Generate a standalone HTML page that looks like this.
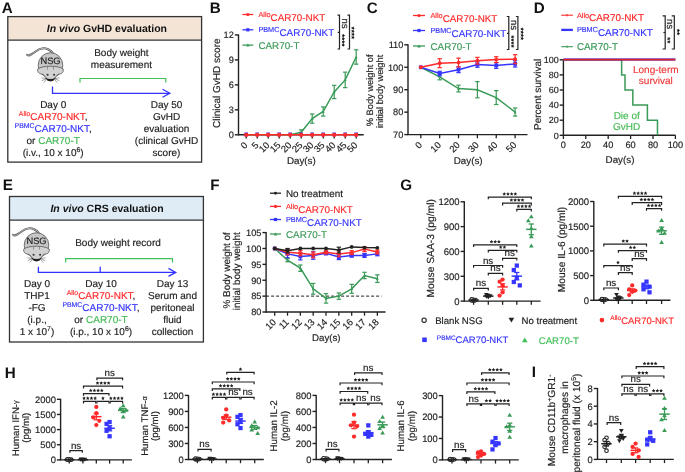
<!DOCTYPE html>
<html><head><meta charset="utf-8"><style>
html,body{margin:0;padding:0;background:#fff;}
svg{display:block;font-family:"Liberation Sans", sans-serif;text-rendering:geometricPrecision;will-change:transform;}
</style></head><body>
<svg width="685" height="472" viewBox="0 0 685 472">
<rect width="685" height="472" fill="#fff"/>
<text x="1.80" y="13.10" font-size="15.2" fill="#111" font-weight="bold">A</text>
<rect x="7.8" y="16.6" width="193.79999999999998" height="23.5" fill="#f3e4d6"/>
<rect x="7.8" y="16.6" width="193.79999999999998" height="145.5" fill="none" stroke="#333" stroke-width="1.3"/>
<line x1="7.80" y1="40.10" x2="201.60" y2="40.10" stroke="#333" stroke-width="1.3"/>
<text x="106.9" y="32.2" font-size="10.5" font-weight="bold" fill="#111" text-anchor="middle"><tspan font-style="italic">In vivo</tspan> GvHD evaluation</text>
<g transform="translate(50.5,61) scale(1.0)"><path d="M-23.4,-6.3 C-21,-4.5 -19,-6.5 -15,-9.5 C-11,-12.8 -6,-13.5 -2,-11.5 C0,-10.5 1.5,-9.5 2.6,-7.6" fill="none" stroke="#555" stroke-width="2.0" stroke-linecap="round"/><path d="M-23.4,-6.3 C-21,-4.5 -19,-6.5 -15,-9.5 C-11,-12.8 -6,-13.5 -2,-11.5 C0,-10.5 1.5,-9.5 2.6,-7.6" fill="none" stroke="#c4c4c4" stroke-width="0.9" stroke-linecap="round"/><ellipse cx="0" cy="4.3" rx="12.3" ry="12.6" fill="#c6c6c6" stroke="#555" stroke-width="0.8"/><path d="M-12.7,8 C-13.6,11.5 -10.5,13.4 -7.5,13.2 L-2,19.4 Q0,20.6 2,19.4 L7.5,13.2 C10.5,13.4 13.6,11.5 12.7,8 C8,4.3 -8,4.3 -12.7,8 Z" fill="#d2d2d2" stroke="#555" stroke-width="0.8"/><path d="M-3,5.6 L-3,8.6 M3,5.6 L3,8.6" stroke="#777" stroke-width="0.7"/><circle cx="-2.9" cy="13.7" r="1.05" fill="#333"/><circle cx="3.6" cy="13.7" r="1.05" fill="#333"/><path d="M-5.6,16.6 Q0,19.6 5.6,16.6 L3.2,19.6 Q0,20.8 -3.2,19.6 Z" fill="#222"/><path d="M-4.5,17.5 L-9,16.8 M-4.5,18 L-8.8,19.6 M-4,18.6 L-6.8,21.6 M4.5,17.5 L9,16.8 M4.5,18 L8.8,19.6 M4,18.6 L6.8,21.6" stroke="#555" stroke-width="0.55"/><text x="0" y="2.9" font-size="9.3" fill="#222" text-anchor="middle" stroke="#222" stroke-width="0.16">NSG</text></g>
<text x="121.40" y="56.00" font-size="10.0" fill="#222" text-anchor="middle" stroke="#222" stroke-width="0.16">Body weight</text>
<text x="121.40" y="68.00" font-size="10.0" fill="#222" text-anchor="middle" stroke="#222" stroke-width="0.16">measurement</text>
<polyline fill="none" stroke="#3fbf55" stroke-width="1.2" points="80.00,82.50 80.00,78.50 165.80,78.50 165.80,82.50"/>
<polyline fill="none" stroke="#3333ff" stroke-width="1.3" points="52.50,86.50 52.50,93.30 169.50,93.30"/>
<polyline fill="none" stroke="#3333ff" stroke-width="1.3" points="162.50,89.30 169.80,93.30 162.50,97.30"/>
<text x="53.20" y="108.10" font-size="10.0" fill="#222" text-anchor="middle" stroke="#222" stroke-width="0.16">Day 0</text>
<text x="53.2" y="120.0" font-size="10.0" text-anchor="middle" fill="#222" stroke="#222" stroke-width="0.16"><tspan fill="#ff2a2a" font-size="6.9" dy="-3.7" stroke="#ff2a2a" stroke-width="0.16">Allo</tspan><tspan fill="#ff2a2a" dy="3.7" stroke="#ff2a2a" stroke-width="0.16">CAR70-NKT</tspan>,</text>
<text x="53.2" y="131.9" font-size="10.0" text-anchor="middle" fill="#222" stroke="#222" stroke-width="0.16"><tspan fill="#3535ff" font-size="6.9" dy="-3.7" stroke="#3535ff" stroke-width="0.16">PBMC</tspan><tspan fill="#3535ff" dy="3.7" stroke="#3535ff" stroke-width="0.16">CAR70-NKT</tspan>,</text>
<text x="53.2" y="143.8" font-size="10.0" text-anchor="middle" fill="#222" stroke="#222" stroke-width="0.16">or <tspan fill="#44bb55" stroke="#44bb55" stroke-width="0.16">CAR70-T</tspan></text>
<text x="53.2" y="155.7" font-size="10.0" text-anchor="middle" fill="#222" stroke="#222" stroke-width="0.16">(i.v., 10 x 10<tspan font-size="6.9" dy="-3.7">6</tspan><tspan dy="3.7">)</tspan></text>
<text x="166.50" y="108.10" font-size="10.0" fill="#222" text-anchor="middle" stroke="#222" stroke-width="0.16">Day 50</text>
<text x="166.50" y="120.00" font-size="10.0" fill="#222" text-anchor="middle" stroke="#222" stroke-width="0.16">GvHD</text>
<text x="166.50" y="131.90" font-size="10.0" fill="#222" text-anchor="middle" stroke="#222" stroke-width="0.16">evaluation</text>
<text x="166.50" y="143.80" font-size="10.0" fill="#222" text-anchor="middle" stroke="#222" stroke-width="0.16">(clinical GvHD</text>
<text x="166.50" y="155.70" font-size="10.0" fill="#222" text-anchor="middle" stroke="#222" stroke-width="0.16">score)</text>
<text x="209.80" y="13.10" font-size="15.2" fill="#111" font-weight="bold">B</text>
<line x1="238.50" y1="34.46" x2="238.50" y2="135.30" stroke="#222" stroke-width="1.4"/>
<line x1="234.80" y1="134.80" x2="238.50" y2="134.80" stroke="#222" stroke-width="1.4"/>
<text x="233.80" y="138.11" font-size="9.2" fill="#222" text-anchor="end" stroke="#222" stroke-width="0.16">0</text>
<line x1="234.80" y1="109.84" x2="238.50" y2="109.84" stroke="#222" stroke-width="1.4"/>
<text x="233.80" y="113.15" font-size="9.2" fill="#222" text-anchor="end" stroke="#222" stroke-width="0.16">3</text>
<line x1="234.80" y1="84.88" x2="238.50" y2="84.88" stroke="#222" stroke-width="1.4"/>
<text x="233.80" y="88.19" font-size="9.2" fill="#222" text-anchor="end" stroke="#222" stroke-width="0.16">6</text>
<line x1="234.80" y1="59.92" x2="238.50" y2="59.92" stroke="#222" stroke-width="1.4"/>
<text x="233.80" y="63.23" font-size="9.2" fill="#222" text-anchor="end" stroke="#222" stroke-width="0.16">9</text>
<line x1="234.80" y1="34.96" x2="238.50" y2="34.96" stroke="#222" stroke-width="1.4"/>
<text x="233.80" y="38.27" font-size="9.2" fill="#222" text-anchor="end" stroke="#222" stroke-width="0.16">12</text>
<line x1="238.00" y1="134.80" x2="363.70" y2="134.80" stroke="#222" stroke-width="1.4"/>
<line x1="246.20" y1="134.80" x2="246.20" y2="138.50" stroke="#222" stroke-width="1.3"/>
<text x="248.20" y="145.70" font-size="9.4" fill="#222" text-anchor="end" transform="rotate(-45 248.20 145.70)" stroke="#222" stroke-width="0.16">0</text>
<line x1="257.20" y1="134.80" x2="257.20" y2="138.50" stroke="#222" stroke-width="1.3"/>
<text x="259.20" y="145.70" font-size="9.4" fill="#222" text-anchor="end" transform="rotate(-45 259.20 145.70)" stroke="#222" stroke-width="0.16">5</text>
<line x1="268.20" y1="134.80" x2="268.20" y2="138.50" stroke="#222" stroke-width="1.3"/>
<text x="270.20" y="145.70" font-size="9.4" fill="#222" text-anchor="end" transform="rotate(-45 270.20 145.70)" stroke="#222" stroke-width="0.16">10</text>
<line x1="279.20" y1="134.80" x2="279.20" y2="138.50" stroke="#222" stroke-width="1.3"/>
<text x="281.20" y="145.70" font-size="9.4" fill="#222" text-anchor="end" transform="rotate(-45 281.20 145.70)" stroke="#222" stroke-width="0.16">15</text>
<line x1="290.20" y1="134.80" x2="290.20" y2="138.50" stroke="#222" stroke-width="1.3"/>
<text x="292.20" y="145.70" font-size="9.4" fill="#222" text-anchor="end" transform="rotate(-45 292.20 145.70)" stroke="#222" stroke-width="0.16">20</text>
<line x1="301.20" y1="134.80" x2="301.20" y2="138.50" stroke="#222" stroke-width="1.3"/>
<text x="303.20" y="145.70" font-size="9.4" fill="#222" text-anchor="end" transform="rotate(-45 303.20 145.70)" stroke="#222" stroke-width="0.16">25</text>
<line x1="312.20" y1="134.80" x2="312.20" y2="138.50" stroke="#222" stroke-width="1.3"/>
<text x="314.20" y="145.70" font-size="9.4" fill="#222" text-anchor="end" transform="rotate(-45 314.20 145.70)" stroke="#222" stroke-width="0.16">30</text>
<line x1="323.20" y1="134.80" x2="323.20" y2="138.50" stroke="#222" stroke-width="1.3"/>
<text x="325.20" y="145.70" font-size="9.4" fill="#222" text-anchor="end" transform="rotate(-45 325.20 145.70)" stroke="#222" stroke-width="0.16">35</text>
<line x1="334.20" y1="134.80" x2="334.20" y2="138.50" stroke="#222" stroke-width="1.3"/>
<text x="336.20" y="145.70" font-size="9.4" fill="#222" text-anchor="end" transform="rotate(-45 336.20 145.70)" stroke="#222" stroke-width="0.16">40</text>
<line x1="345.20" y1="134.80" x2="345.20" y2="138.50" stroke="#222" stroke-width="1.3"/>
<text x="347.20" y="145.70" font-size="9.4" fill="#222" text-anchor="end" transform="rotate(-45 347.20 145.70)" stroke="#222" stroke-width="0.16">45</text>
<line x1="356.20" y1="134.80" x2="356.20" y2="138.50" stroke="#222" stroke-width="1.3"/>
<text x="358.20" y="145.70" font-size="9.4" fill="#222" text-anchor="end" transform="rotate(-45 358.20 145.70)" stroke="#222" stroke-width="0.16">50</text>
<text x="301.35" y="163.90" font-size="9.8" fill="#222" text-anchor="middle" stroke="#222" stroke-width="0.16">Day(s)</text>
<text x="220.30" y="83.20" font-size="10" fill="#222" text-anchor="middle" transform="rotate(-90 220.30 83.20)" stroke="#222" stroke-width="0.16">Clinical GvHD score</text>
<line x1="301.20" y1="134.80" x2="301.20" y2="129.81" stroke="#3a9a58" stroke-width="1.2"/>
<line x1="299.00" y1="134.80" x2="303.40" y2="134.80" stroke="#3a9a58" stroke-width="1.2"/>
<line x1="299.00" y1="129.81" x2="303.40" y2="129.81" stroke="#3a9a58" stroke-width="1.2"/>
<line x1="312.20" y1="123.15" x2="312.20" y2="114.00" stroke="#3a9a58" stroke-width="1.2"/>
<line x1="310.00" y1="123.15" x2="314.40" y2="123.15" stroke="#3a9a58" stroke-width="1.2"/>
<line x1="310.00" y1="114.00" x2="314.40" y2="114.00" stroke="#3a9a58" stroke-width="1.2"/>
<line x1="323.20" y1="116.08" x2="323.20" y2="106.93" stroke="#3a9a58" stroke-width="1.2"/>
<line x1="321.00" y1="116.08" x2="325.40" y2="116.08" stroke="#3a9a58" stroke-width="1.2"/>
<line x1="321.00" y1="106.93" x2="325.40" y2="106.93" stroke="#3a9a58" stroke-width="1.2"/>
<line x1="334.20" y1="98.61" x2="334.20" y2="85.30" stroke="#3a9a58" stroke-width="1.2"/>
<line x1="332.00" y1="98.61" x2="336.40" y2="98.61" stroke="#3a9a58" stroke-width="1.2"/>
<line x1="332.00" y1="85.30" x2="336.40" y2="85.30" stroke="#3a9a58" stroke-width="1.2"/>
<line x1="345.20" y1="87.63" x2="345.20" y2="72.15" stroke="#3a9a58" stroke-width="1.2"/>
<line x1="343.00" y1="87.63" x2="347.40" y2="87.63" stroke="#3a9a58" stroke-width="1.2"/>
<line x1="343.00" y1="72.15" x2="347.40" y2="72.15" stroke="#3a9a58" stroke-width="1.2"/>
<line x1="356.20" y1="64.16" x2="356.20" y2="49.85" stroke="#3a9a58" stroke-width="1.2"/>
<line x1="354.00" y1="64.16" x2="358.40" y2="64.16" stroke="#3a9a58" stroke-width="1.2"/>
<line x1="354.00" y1="49.85" x2="358.40" y2="49.85" stroke="#3a9a58" stroke-width="1.2"/>
<polyline fill="none" stroke="#3a9a58" stroke-width="1.5" points="246.20,134.80 257.20,134.80 268.20,134.80 279.20,134.80 290.20,134.80 301.20,132.30 312.20,118.58 323.20,111.50 334.20,91.95 345.20,79.89 356.20,57.01"/>
<polygon fill="#3a9a58" points="244.73,135.98 247.67,135.98 246.20,133.48"/>
<polygon fill="#3a9a58" points="255.73,135.98 258.67,135.98 257.20,133.48"/>
<polygon fill="#3a9a58" points="266.73,135.98 269.67,135.98 268.20,133.48"/>
<polygon fill="#3a9a58" points="277.73,135.98 280.67,135.98 279.20,133.48"/>
<polygon fill="#3a9a58" points="288.73,135.98 291.67,135.98 290.20,133.48"/>
<polygon fill="#3a9a58" points="299.73,133.48 302.67,133.48 301.20,130.98"/>
<polygon fill="#3a9a58" points="310.73,119.75 313.67,119.75 312.20,117.25"/>
<polygon fill="#3a9a58" points="321.73,112.68 324.67,112.68 323.20,110.18"/>
<polygon fill="#3a9a58" points="332.73,93.13 335.67,93.13 334.20,90.63"/>
<polygon fill="#3a9a58" points="343.73,81.06 346.67,81.06 345.20,78.57"/>
<polygon fill="#3a9a58" points="354.73,58.18 357.67,58.18 356.20,55.69"/>
<rect x="244.39" y="132.50" width="3.61" height="3.61" fill="#3535ff"/>
<rect x="255.39" y="132.50" width="3.61" height="3.61" fill="#3535ff"/>
<rect x="266.39" y="132.50" width="3.61" height="3.61" fill="#3535ff"/>
<rect x="277.39" y="132.50" width="3.61" height="3.61" fill="#3535ff"/>
<rect x="288.39" y="132.50" width="3.61" height="3.61" fill="#3535ff"/>
<rect x="299.39" y="132.50" width="3.61" height="3.61" fill="#3535ff"/>
<rect x="310.39" y="132.50" width="3.61" height="3.61" fill="#3535ff"/>
<rect x="321.39" y="132.50" width="3.61" height="3.61" fill="#3535ff"/>
<rect x="332.39" y="132.50" width="3.61" height="3.61" fill="#3535ff"/>
<rect x="343.39" y="132.50" width="3.61" height="3.61" fill="#3535ff"/>
<rect x="354.39" y="132.50" width="3.61" height="3.61" fill="#3535ff"/>
<polyline fill="none" stroke="#ff2a2a" stroke-width="1.6" points="246.20,134.80 356.20,134.80"/>
<circle cx="246.20" cy="134.90" r="2.128" fill="#ff2a2a" stroke="none" stroke-width="0"/>
<circle cx="257.20" cy="134.90" r="2.128" fill="#ff2a2a" stroke="none" stroke-width="0"/>
<circle cx="268.20" cy="134.90" r="2.128" fill="#ff2a2a" stroke="none" stroke-width="0"/>
<circle cx="279.20" cy="134.90" r="2.128" fill="#ff2a2a" stroke="none" stroke-width="0"/>
<circle cx="290.20" cy="134.90" r="2.128" fill="#ff2a2a" stroke="none" stroke-width="0"/>
<circle cx="301.20" cy="134.90" r="2.128" fill="#ff2a2a" stroke="none" stroke-width="0"/>
<circle cx="312.20" cy="134.90" r="2.128" fill="#ff2a2a" stroke="none" stroke-width="0"/>
<circle cx="323.20" cy="134.90" r="2.128" fill="#ff2a2a" stroke="none" stroke-width="0"/>
<circle cx="334.20" cy="134.90" r="2.128" fill="#ff2a2a" stroke="none" stroke-width="0"/>
<circle cx="345.20" cy="134.90" r="2.128" fill="#ff2a2a" stroke="none" stroke-width="0"/>
<circle cx="356.20" cy="134.90" r="2.128" fill="#ff2a2a" stroke="none" stroke-width="0"/>
<line x1="242.40" y1="14.50" x2="253.30" y2="14.50" stroke="#ff2a2a" stroke-width="1.3"/>
<circle cx="247.85" cy="14.50" r="1.615" fill="#ff2a2a" stroke="none" stroke-width="0"/>
<line x1="242.40" y1="29.80" x2="253.30" y2="29.80" stroke="#3535ff" stroke-width="1.3"/>
<rect x="246.24" y="28.19" width="3.23" height="3.23" fill="#3535ff"/>
<line x1="242.40" y1="45.10" x2="253.30" y2="45.10" stroke="#3a9a58" stroke-width="1.3"/>
<polygon fill="#3a9a58" points="246.07,46.53 249.64,46.53 247.85,43.49"/>
<text x="258.4" y="20.60" font-size="9.85" fill="#ff2a2a" stroke="#ff2a2a" stroke-width="0.16"><tspan font-size="7.3" dy="-3.6">Allo</tspan><tspan dy="3.6">CAR70-NKT</tspan></text>
<text x="258.4" y="35.90" font-size="9.85" fill="#3535ff" stroke="#3535ff" stroke-width="0.16"><tspan font-size="7.3" dy="-3.6">PBMC</tspan><tspan dy="3.6">CAR70-NKT</tspan></text>
<text x="258.4" y="48.70" font-size="9.85" fill="#3a9a58" stroke="#3a9a58" stroke-width="0.16">CAR70-T</text>
<polyline fill="none" stroke="#222" stroke-width="1.2" points="337.50,15.20 339.50,15.20 339.50,49.00 337.50,49.00"/>
<line x1="337.70" y1="32.40" x2="339.50" y2="32.40" stroke="#222" stroke-width="1.2"/>
<text x="341.50" y="23.60" font-size="9.6" fill="#222" text-anchor="middle" transform="rotate(90 341.50 23.60)" stroke="#222" stroke-width="0.16">ns</text>
<polygon fill="#222" points="345.25,35.65 344.09,36.22 343.90,37.50 343.00,36.58 341.72,36.80 342.32,35.65 341.72,34.50 343.00,34.72 343.90,33.80 344.09,35.08"/>
<polygon fill="#222" points="345.25,38.75 344.09,39.32 343.90,40.60 343.00,39.68 341.72,39.90 342.32,38.75 341.72,37.60 343.00,37.82 343.90,36.90 344.09,38.18"/>
<polygon fill="#222" points="345.25,41.85 344.09,42.42 343.90,43.70 343.00,42.78 341.72,43.00 342.32,41.85 341.72,40.70 343.00,40.92 343.90,40.00 344.09,41.28"/>
<polygon fill="#222" points="345.25,44.95 344.09,45.52 343.90,46.80 343.00,45.88 341.72,46.10 342.32,44.95 341.72,43.80 343.00,44.02 343.90,43.10 344.09,44.38"/>
<polyline fill="none" stroke="#222" stroke-width="1.2" points="347.50,15.20 349.50,15.20 349.50,49.00 347.50,49.00"/>
<polygon fill="#222" points="354.85,28.15 353.69,28.72 353.50,30.00 352.60,29.08 351.32,29.30 351.92,28.15 351.32,27.00 352.60,27.22 353.50,26.30 353.69,27.58"/>
<polygon fill="#222" points="354.85,31.25 353.69,31.82 353.50,33.10 352.60,32.18 351.32,32.40 351.92,31.25 351.32,30.10 352.60,30.32 353.50,29.40 353.69,30.68"/>
<polygon fill="#222" points="354.85,34.35 353.69,34.92 353.50,36.20 352.60,35.28 351.32,35.50 351.92,34.35 351.32,33.20 352.60,33.42 353.50,32.50 353.69,33.78"/>
<polygon fill="#222" points="354.85,37.45 353.69,38.02 353.50,39.30 352.60,38.38 351.32,38.60 351.92,37.45 351.32,36.30 352.60,36.52 353.50,35.60 353.69,36.88"/>
<text x="366.80" y="13.10" font-size="15.2" fill="#111" font-weight="bold">C</text>
<line x1="408.00" y1="44.30" x2="408.00" y2="135.10" stroke="#222" stroke-width="1.4"/>
<line x1="404.30" y1="134.60" x2="408.00" y2="134.60" stroke="#222" stroke-width="1.4"/>
<text x="403.30" y="137.91" font-size="9.2" fill="#222" text-anchor="end" stroke="#222" stroke-width="0.16">70</text>
<line x1="404.30" y1="112.15" x2="408.00" y2="112.15" stroke="#222" stroke-width="1.4"/>
<text x="403.30" y="115.46" font-size="9.2" fill="#222" text-anchor="end" stroke="#222" stroke-width="0.16">80</text>
<line x1="404.30" y1="89.70" x2="408.00" y2="89.70" stroke="#222" stroke-width="1.4"/>
<text x="403.30" y="93.01" font-size="9.2" fill="#222" text-anchor="end" stroke="#222" stroke-width="0.16">90</text>
<line x1="404.30" y1="67.25" x2="408.00" y2="67.25" stroke="#222" stroke-width="1.4"/>
<text x="403.30" y="70.56" font-size="9.2" fill="#222" text-anchor="end" stroke="#222" stroke-width="0.16">100</text>
<line x1="404.30" y1="44.80" x2="408.00" y2="44.80" stroke="#222" stroke-width="1.4"/>
<text x="403.30" y="48.11" font-size="9.2" fill="#222" text-anchor="end" stroke="#222" stroke-width="0.16">110</text>
<line x1="407.50" y1="134.60" x2="527.50" y2="134.60" stroke="#222" stroke-width="1.4"/>
<line x1="420.80" y1="134.60" x2="420.80" y2="138.30" stroke="#222" stroke-width="1.3"/>
<text x="422.80" y="145.50" font-size="9.4" fill="#222" text-anchor="end" transform="rotate(-45 422.80 145.50)" stroke="#222" stroke-width="0.16">0</text>
<line x1="439.66" y1="134.60" x2="439.66" y2="138.30" stroke="#222" stroke-width="1.3"/>
<text x="441.66" y="145.50" font-size="9.4" fill="#222" text-anchor="end" transform="rotate(-45 441.66 145.50)" stroke="#222" stroke-width="0.16">10</text>
<line x1="458.52" y1="134.60" x2="458.52" y2="138.30" stroke="#222" stroke-width="1.3"/>
<text x="460.52" y="145.50" font-size="9.4" fill="#222" text-anchor="end" transform="rotate(-45 460.52 145.50)" stroke="#222" stroke-width="0.16">20</text>
<line x1="477.38" y1="134.60" x2="477.38" y2="138.30" stroke="#222" stroke-width="1.3"/>
<text x="479.38" y="145.50" font-size="9.4" fill="#222" text-anchor="end" transform="rotate(-45 479.38 145.50)" stroke="#222" stroke-width="0.16">30</text>
<line x1="496.24" y1="134.60" x2="496.24" y2="138.30" stroke="#222" stroke-width="1.3"/>
<text x="498.24" y="145.50" font-size="9.4" fill="#222" text-anchor="end" transform="rotate(-45 498.24 145.50)" stroke="#222" stroke-width="0.16">40</text>
<line x1="515.10" y1="134.60" x2="515.10" y2="138.30" stroke="#222" stroke-width="1.3"/>
<text x="517.10" y="145.50" font-size="9.4" fill="#222" text-anchor="end" transform="rotate(-45 517.10 145.50)" stroke="#222" stroke-width="0.16">50</text>
<text x="468.20" y="163.90" font-size="9.8" fill="#222" text-anchor="middle" stroke="#222" stroke-width="0.16">Day(s)</text>
<text x="372.80" y="90.30" font-size="9.3" fill="#222" text-anchor="middle" transform="rotate(-90 372.80 90.30)" stroke="#222" stroke-width="0.16">% Body weight of</text>
<text x="383.40" y="91.40" font-size="9.3" fill="#222" text-anchor="middle" transform="rotate(-90 383.40 91.40)" stroke="#222" stroke-width="0.16">initial body weight</text>
<line x1="439.66" y1="79.82" x2="439.66" y2="73.98" stroke="#3a9a58" stroke-width="1.2"/>
<line x1="437.46" y1="79.82" x2="441.86" y2="79.82" stroke="#3a9a58" stroke-width="1.2"/>
<line x1="437.46" y1="73.98" x2="441.86" y2="73.98" stroke="#3a9a58" stroke-width="1.2"/>
<line x1="458.52" y1="91.94" x2="458.52" y2="85.21" stroke="#3a9a58" stroke-width="1.2"/>
<line x1="456.32" y1="91.94" x2="460.72" y2="91.94" stroke="#3a9a58" stroke-width="1.2"/>
<line x1="456.32" y1="85.21" x2="460.72" y2="85.21" stroke="#3a9a58" stroke-width="1.2"/>
<line x1="477.38" y1="97.78" x2="477.38" y2="81.62" stroke="#3a9a58" stroke-width="1.2"/>
<line x1="475.18" y1="97.78" x2="479.58" y2="97.78" stroke="#3a9a58" stroke-width="1.2"/>
<line x1="475.18" y1="81.62" x2="479.58" y2="81.62" stroke="#3a9a58" stroke-width="1.2"/>
<line x1="496.24" y1="104.52" x2="496.24" y2="90.60" stroke="#3a9a58" stroke-width="1.2"/>
<line x1="494.04" y1="104.52" x2="498.44" y2="104.52" stroke="#3a9a58" stroke-width="1.2"/>
<line x1="494.04" y1="90.60" x2="498.44" y2="90.60" stroke="#3a9a58" stroke-width="1.2"/>
<line x1="515.10" y1="116.08" x2="515.10" y2="108.00" stroke="#3a9a58" stroke-width="1.2"/>
<line x1="512.90" y1="116.08" x2="517.30" y2="116.08" stroke="#3a9a58" stroke-width="1.2"/>
<line x1="512.90" y1="108.00" x2="517.30" y2="108.00" stroke="#3a9a58" stroke-width="1.2"/>
<polyline fill="none" stroke="#3a9a58" stroke-width="1.5" points="420.80,67.25 439.66,76.90 458.52,88.58 477.38,89.70 496.24,97.56 515.10,112.04"/>
<polygon fill="#3a9a58" points="419.33,68.43 422.27,68.43 420.80,65.93"/>
<polygon fill="#3a9a58" points="438.19,78.08 441.13,78.08 439.66,75.58"/>
<polygon fill="#3a9a58" points="457.05,89.75 459.99,89.75 458.52,87.25"/>
<polygon fill="#3a9a58" points="475.91,90.88 478.85,90.88 477.38,88.38"/>
<polygon fill="#3a9a58" points="494.77,98.73 497.71,98.73 496.24,96.23"/>
<polygon fill="#3a9a58" points="513.63,113.21 516.57,113.21 515.10,110.71"/>
<line x1="439.66" y1="75.78" x2="439.66" y2="71.29" stroke="#3535ff" stroke-width="1.2"/>
<line x1="437.46" y1="75.78" x2="441.86" y2="75.78" stroke="#3535ff" stroke-width="1.2"/>
<line x1="437.46" y1="71.29" x2="441.86" y2="71.29" stroke="#3535ff" stroke-width="1.2"/>
<line x1="458.52" y1="72.64" x2="458.52" y2="66.80" stroke="#3535ff" stroke-width="1.2"/>
<line x1="456.32" y1="72.64" x2="460.72" y2="72.64" stroke="#3535ff" stroke-width="1.2"/>
<line x1="456.32" y1="66.80" x2="460.72" y2="66.80" stroke="#3535ff" stroke-width="1.2"/>
<line x1="477.38" y1="67.25" x2="477.38" y2="61.86" stroke="#3535ff" stroke-width="1.2"/>
<line x1="475.18" y1="67.25" x2="479.58" y2="67.25" stroke="#3535ff" stroke-width="1.2"/>
<line x1="475.18" y1="61.86" x2="479.58" y2="61.86" stroke="#3535ff" stroke-width="1.2"/>
<line x1="496.24" y1="68.37" x2="496.24" y2="62.54" stroke="#3535ff" stroke-width="1.2"/>
<line x1="494.04" y1="68.37" x2="498.44" y2="68.37" stroke="#3535ff" stroke-width="1.2"/>
<line x1="494.04" y1="62.54" x2="498.44" y2="62.54" stroke="#3535ff" stroke-width="1.2"/>
<line x1="515.10" y1="67.03" x2="515.10" y2="60.74" stroke="#3535ff" stroke-width="1.2"/>
<line x1="512.90" y1="67.03" x2="517.30" y2="67.03" stroke="#3535ff" stroke-width="1.2"/>
<line x1="512.90" y1="60.74" x2="517.30" y2="60.74" stroke="#3535ff" stroke-width="1.2"/>
<polyline fill="none" stroke="#3535ff" stroke-width="1.5" points="420.80,67.25 439.66,73.54 458.52,69.72 477.38,64.56 496.24,65.45 515.10,63.88"/>
<rect x="418.90" y="65.35" width="3.80" height="3.80" fill="#3535ff"/>
<rect x="437.76" y="71.64" width="3.80" height="3.80" fill="#3535ff"/>
<rect x="456.62" y="67.82" width="3.80" height="3.80" fill="#3535ff"/>
<rect x="475.48" y="62.66" width="3.80" height="3.80" fill="#3535ff"/>
<rect x="494.34" y="63.55" width="3.80" height="3.80" fill="#3535ff"/>
<rect x="513.20" y="61.98" width="3.80" height="3.80" fill="#3535ff"/>
<line x1="439.66" y1="67.70" x2="439.66" y2="58.72" stroke="#ff2a2a" stroke-width="1.2"/>
<line x1="437.46" y1="67.70" x2="441.86" y2="67.70" stroke="#ff2a2a" stroke-width="1.2"/>
<line x1="437.46" y1="58.72" x2="441.86" y2="58.72" stroke="#ff2a2a" stroke-width="1.2"/>
<line x1="458.52" y1="66.91" x2="458.52" y2="58.16" stroke="#ff2a2a" stroke-width="1.2"/>
<line x1="456.32" y1="66.91" x2="460.72" y2="66.91" stroke="#ff2a2a" stroke-width="1.2"/>
<line x1="456.32" y1="58.16" x2="460.72" y2="58.16" stroke="#ff2a2a" stroke-width="1.2"/>
<line x1="477.38" y1="64.11" x2="477.38" y2="57.37" stroke="#ff2a2a" stroke-width="1.2"/>
<line x1="475.18" y1="64.11" x2="479.58" y2="64.11" stroke="#ff2a2a" stroke-width="1.2"/>
<line x1="475.18" y1="57.37" x2="479.58" y2="57.37" stroke="#ff2a2a" stroke-width="1.2"/>
<line x1="496.24" y1="62.54" x2="496.24" y2="56.70" stroke="#ff2a2a" stroke-width="1.2"/>
<line x1="494.04" y1="62.54" x2="498.44" y2="62.54" stroke="#ff2a2a" stroke-width="1.2"/>
<line x1="494.04" y1="56.70" x2="498.44" y2="56.70" stroke="#ff2a2a" stroke-width="1.2"/>
<line x1="515.10" y1="63.66" x2="515.10" y2="54.68" stroke="#ff2a2a" stroke-width="1.2"/>
<line x1="512.90" y1="63.66" x2="517.30" y2="63.66" stroke="#ff2a2a" stroke-width="1.2"/>
<line x1="512.90" y1="54.68" x2="517.30" y2="54.68" stroke="#ff2a2a" stroke-width="1.2"/>
<polyline fill="none" stroke="#ff2a2a" stroke-width="1.5" points="420.80,67.25 439.66,63.21 458.52,62.54 477.38,60.74 496.24,59.62 515.10,59.17"/>
<circle cx="420.80" cy="67.25" r="1.9" fill="#ff2a2a" stroke="none" stroke-width="0"/>
<circle cx="439.66" cy="63.21" r="1.9" fill="#ff2a2a" stroke="none" stroke-width="0"/>
<circle cx="458.52" cy="62.54" r="1.9" fill="#ff2a2a" stroke="none" stroke-width="0"/>
<circle cx="477.38" cy="60.74" r="1.9" fill="#ff2a2a" stroke="none" stroke-width="0"/>
<circle cx="496.24" cy="59.62" r="1.9" fill="#ff2a2a" stroke="none" stroke-width="0"/>
<circle cx="515.10" cy="59.17" r="1.9" fill="#ff2a2a" stroke="none" stroke-width="0"/>
<line x1="413.00" y1="15.50" x2="425.00" y2="15.50" stroke="#ff2a2a" stroke-width="1.3"/>
<circle cx="419.00" cy="15.50" r="1.615" fill="#ff2a2a" stroke="none" stroke-width="0"/>
<line x1="413.00" y1="30.50" x2="425.00" y2="30.50" stroke="#3535ff" stroke-width="1.3"/>
<rect x="417.38" y="28.89" width="3.23" height="3.23" fill="#3535ff"/>
<line x1="413.00" y1="46.00" x2="425.00" y2="46.00" stroke="#3a9a58" stroke-width="1.3"/>
<polygon fill="#3a9a58" points="417.21,47.43 420.79,47.43 419.00,44.39"/>
<text x="430.5" y="21.60" font-size="9.85" fill="#ff2a2a" stroke="#ff2a2a" stroke-width="0.16"><tspan font-size="7.3" dy="-3.6">Allo</tspan><tspan dy="3.6">CAR70-NKT</tspan></text>
<text x="430.5" y="36.60" font-size="9.85" fill="#3535ff" stroke="#3535ff" stroke-width="0.16"><tspan font-size="7.3" dy="-3.6">PBMC</tspan><tspan dy="3.6">CAR70-NKT</tspan></text>
<text x="430.5" y="49.60" font-size="9.85" fill="#3a9a58" stroke="#3a9a58" stroke-width="0.16">CAR70-T</text>
<polyline fill="none" stroke="#222" stroke-width="1.2" points="506.80,16.50 508.80,16.50 508.80,49.50 506.80,49.50"/>
<line x1="507.00" y1="33.30" x2="508.80" y2="33.30" stroke="#222" stroke-width="1.2"/>
<text x="510.80" y="25.00" font-size="9.6" fill="#222" text-anchor="middle" transform="rotate(90 510.80 25.00)" stroke="#222" stroke-width="0.16">ns</text>
<polygon fill="#222" points="514.55,36.85 513.39,37.42 513.20,38.70 512.30,37.78 511.02,38.00 511.62,36.85 511.02,35.70 512.30,35.92 513.20,35.00 513.39,36.28"/>
<polygon fill="#222" points="514.55,39.95 513.39,40.52 513.20,41.80 512.30,40.88 511.02,41.10 511.62,39.95 511.02,38.80 512.30,39.02 513.20,38.10 513.39,39.38"/>
<polygon fill="#222" points="514.55,43.05 513.39,43.62 513.20,44.90 512.30,43.98 511.02,44.20 511.62,43.05 511.02,41.90 512.30,42.12 513.20,41.20 513.39,42.48"/>
<polygon fill="#222" points="514.55,46.15 513.39,46.72 513.20,48.00 512.30,47.08 511.02,47.30 511.62,46.15 511.02,45.00 512.30,45.22 513.20,44.30 513.39,45.58"/>
<polyline fill="none" stroke="#222" stroke-width="1.2" points="515.90,16.50 517.90,16.50 517.90,49.50 515.90,49.50"/>
<polygon fill="#222" points="524.05,29.15 522.89,29.72 522.70,31.00 521.80,30.08 520.52,30.30 521.12,29.15 520.52,28.00 521.80,28.22 522.70,27.30 522.89,28.58"/>
<polygon fill="#222" points="524.05,32.25 522.89,32.82 522.70,34.10 521.80,33.18 520.52,33.40 521.12,32.25 520.52,31.10 521.80,31.32 522.70,30.40 522.89,31.68"/>
<polygon fill="#222" points="524.05,35.35 522.89,35.92 522.70,37.20 521.80,36.28 520.52,36.50 521.12,35.35 520.52,34.20 521.80,34.42 522.70,33.50 522.89,34.78"/>
<polygon fill="#222" points="524.05,38.45 522.89,39.02 522.70,40.30 521.80,39.38 520.52,39.60 521.12,38.45 520.52,37.30 521.80,37.52 522.70,36.60 522.89,37.88"/>
<text x="533.80" y="13.10" font-size="15.2" fill="#111" font-weight="bold">D</text>
<line x1="563.40" y1="59.30" x2="563.40" y2="135.80" stroke="#222" stroke-width="1.4"/>
<line x1="559.70" y1="135.30" x2="563.40" y2="135.30" stroke="#222" stroke-width="1.4"/>
<text x="558.70" y="138.54" font-size="9.0" fill="#222" text-anchor="end" stroke="#222" stroke-width="0.16">0</text>
<line x1="559.70" y1="120.20" x2="563.40" y2="120.20" stroke="#222" stroke-width="1.4"/>
<text x="558.70" y="123.44" font-size="9.0" fill="#222" text-anchor="end" stroke="#222" stroke-width="0.16">20</text>
<line x1="559.70" y1="105.10" x2="563.40" y2="105.10" stroke="#222" stroke-width="1.4"/>
<text x="558.70" y="108.34" font-size="9.0" fill="#222" text-anchor="end" stroke="#222" stroke-width="0.16">40</text>
<line x1="559.70" y1="90.00" x2="563.40" y2="90.00" stroke="#222" stroke-width="1.4"/>
<text x="558.70" y="93.24" font-size="9.0" fill="#222" text-anchor="end" stroke="#222" stroke-width="0.16">60</text>
<line x1="559.70" y1="74.90" x2="563.40" y2="74.90" stroke="#222" stroke-width="1.4"/>
<text x="558.70" y="78.14" font-size="9.0" fill="#222" text-anchor="end" stroke="#222" stroke-width="0.16">80</text>
<line x1="559.70" y1="59.80" x2="563.40" y2="59.80" stroke="#222" stroke-width="1.4"/>
<text x="558.70" y="63.04" font-size="9.0" fill="#222" text-anchor="end" stroke="#222" stroke-width="0.16">100</text>
<line x1="562.90" y1="135.30" x2="675.50" y2="135.30" stroke="#222" stroke-width="1.4"/>
<line x1="563.40" y1="135.30" x2="563.40" y2="139.00" stroke="#222" stroke-width="1.3"/>
<text x="563.40" y="147.90" font-size="9.2" fill="#222" text-anchor="middle" stroke="#222" stroke-width="0.16">0</text>
<line x1="585.80" y1="135.30" x2="585.80" y2="139.00" stroke="#222" stroke-width="1.3"/>
<text x="585.80" y="147.90" font-size="9.2" fill="#222" text-anchor="middle" stroke="#222" stroke-width="0.16">20</text>
<line x1="608.20" y1="135.30" x2="608.20" y2="139.00" stroke="#222" stroke-width="1.3"/>
<text x="608.20" y="147.90" font-size="9.2" fill="#222" text-anchor="middle" stroke="#222" stroke-width="0.16">40</text>
<line x1="630.60" y1="135.30" x2="630.60" y2="139.00" stroke="#222" stroke-width="1.3"/>
<text x="630.60" y="147.90" font-size="9.2" fill="#222" text-anchor="middle" stroke="#222" stroke-width="0.16">60</text>
<line x1="653.00" y1="135.30" x2="653.00" y2="139.00" stroke="#222" stroke-width="1.3"/>
<text x="653.00" y="147.90" font-size="9.2" fill="#222" text-anchor="middle" stroke="#222" stroke-width="0.16">80</text>
<line x1="675.40" y1="135.30" x2="675.40" y2="139.00" stroke="#222" stroke-width="1.3"/>
<text x="675.40" y="147.90" font-size="9.2" fill="#222" text-anchor="middle" stroke="#222" stroke-width="0.16">100</text>
<text x="620.00" y="162.70" font-size="9.8" fill="#222" text-anchor="middle" stroke="#222" stroke-width="0.16">Day(s)</text>
<text x="541.40" y="94.40" font-size="10" fill="#222" text-anchor="middle" transform="rotate(-90 541.40 94.40)" stroke="#222" stroke-width="0.16">Percent survival</text>
<polyline fill="none" stroke="#3a9a58" stroke-width="1.5" points="563.40,59.80 621.64,59.80 621.64,74.90 625.00,74.90 625.00,90.00 632.84,90.00 632.84,105.10 647.40,105.10 647.40,120.20 657.48,120.20 657.48,135.30"/>
<line x1="563.40" y1="59.60" x2="675.40" y2="59.60" stroke="#3535ff" stroke-width="3.0" stroke-opacity="0.6"/>
<line x1="563.40" y1="59.70" x2="675.40" y2="59.70" stroke="#e02020" stroke-width="1.7"/>
<text x="655.80" y="73.00" font-size="10" fill="#f03a3a" text-anchor="middle" stroke="#f03a3a" stroke-width="0.16">Long-term</text>
<text x="655.80" y="83.80" font-size="10" fill="#f03a3a" text-anchor="middle" stroke="#f03a3a" stroke-width="0.16">survival</text>
<text x="626.70" y="118.90" font-size="10" fill="#44bb55" text-anchor="middle" stroke="#44bb55" stroke-width="0.16">Die of</text>
<text x="626.70" y="129.70" font-size="10" fill="#44bb55" text-anchor="middle" stroke="#44bb55" stroke-width="0.16">GvHD</text>
<line x1="561.20" y1="15.20" x2="572.90" y2="15.20" stroke="#ff2a2a" stroke-width="1.1"/>
<line x1="567.05" y1="14.00" x2="567.05" y2="16.40" stroke="#ff2a2a" stroke-width="1.0"/>
<line x1="561.20" y1="29.90" x2="572.90" y2="29.90" stroke="#3535ff" stroke-width="2.3"/>
<line x1="561.20" y1="46.70" x2="572.90" y2="46.70" stroke="#3a9a58" stroke-width="1.1"/>
<line x1="567.05" y1="45.50" x2="567.05" y2="47.90" stroke="#3a9a58" stroke-width="1.0"/>
<text x="576.9" y="21.30" font-size="9.9" fill="#ff2a2a" stroke="#ff2a2a" stroke-width="0.16"><tspan font-size="7.3" dy="-3.6">Allo</tspan><tspan dy="3.6">CAR70-NKT</tspan></text>
<text x="576.9" y="36.00" font-size="9.9" fill="#3535ff" stroke="#3535ff" stroke-width="0.16"><tspan font-size="7.3" dy="-3.6">PBMC</tspan><tspan dy="3.6">CAR70-NKT</tspan></text>
<text x="576.9" y="50.30" font-size="9.9" fill="#3a9a58" stroke="#3a9a58" stroke-width="0.16">CAR70-T</text>
<polyline fill="none" stroke="#222" stroke-width="1.2" points="662.60,15.90 665.20,15.90 665.20,49.00 662.60,49.00"/>
<line x1="663.40" y1="32.50" x2="665.20" y2="32.50" stroke="#222" stroke-width="1.2"/>
<text x="667.20" y="24.00" font-size="9.6" fill="#222" text-anchor="middle" transform="rotate(90 667.20 24.00)" stroke="#222" stroke-width="0.16">ns</text>
<polygon fill="#222" points="670.75,38.75 669.59,39.32 669.40,40.60 668.50,39.68 667.22,39.90 667.83,38.75 667.22,37.60 668.50,37.82 669.40,36.90 669.59,38.18"/>
<polygon fill="#222" points="670.75,41.85 669.59,42.42 669.40,43.70 668.50,42.78 667.22,43.00 667.83,41.85 667.22,40.70 668.50,40.92 669.40,40.00 669.59,41.28"/>
<polyline fill="none" stroke="#222" stroke-width="1.2" points="671.70,15.90 674.30,15.90 674.30,49.00 671.70,49.00"/>
<polygon fill="#222" points="680.25,30.55 679.09,31.12 678.90,32.40 678.00,31.48 676.72,31.70 677.32,30.55 676.72,29.40 678.00,29.62 678.90,28.70 679.09,29.98"/>
<polygon fill="#222" points="680.25,33.65 679.09,34.22 678.90,35.50 678.00,34.58 676.72,34.80 677.32,33.65 676.72,32.50 678.00,32.72 678.90,31.80 679.09,33.08"/>
<text x="2.80" y="190.10" font-size="15.2" fill="#111" font-weight="bold">E</text>
<rect x="9.5" y="196.5" width="193.9" height="23.599999999999994" fill="#dfecf5"/>
<rect x="9.5" y="196.5" width="193.9" height="145.5" fill="none" stroke="#333" stroke-width="1.3"/>
<line x1="9.50" y1="220.10" x2="203.40" y2="220.10" stroke="#333" stroke-width="1.3"/>
<text x="107" y="212" font-size="10.5" font-weight="bold" fill="#111" text-anchor="middle"><tspan font-style="italic">In vivo</tspan> CRS evaluation</text>
<g transform="translate(36.5,241) scale(1.0)"><path d="M-23.4,-6.3 C-21,-4.5 -19,-6.5 -15,-9.5 C-11,-12.8 -6,-13.5 -2,-11.5 C0,-10.5 1.5,-9.5 2.6,-7.6" fill="none" stroke="#555" stroke-width="2.0" stroke-linecap="round"/><path d="M-23.4,-6.3 C-21,-4.5 -19,-6.5 -15,-9.5 C-11,-12.8 -6,-13.5 -2,-11.5 C0,-10.5 1.5,-9.5 2.6,-7.6" fill="none" stroke="#c4c4c4" stroke-width="0.9" stroke-linecap="round"/><ellipse cx="0" cy="4.3" rx="12.3" ry="12.6" fill="#c6c6c6" stroke="#555" stroke-width="0.8"/><path d="M-12.7,8 C-13.6,11.5 -10.5,13.4 -7.5,13.2 L-2,19.4 Q0,20.6 2,19.4 L7.5,13.2 C10.5,13.4 13.6,11.5 12.7,8 C8,4.3 -8,4.3 -12.7,8 Z" fill="#d2d2d2" stroke="#555" stroke-width="0.8"/><path d="M-3,5.6 L-3,8.6 M3,5.6 L3,8.6" stroke="#777" stroke-width="0.7"/><circle cx="-2.9" cy="13.7" r="1.05" fill="#333"/><circle cx="3.6" cy="13.7" r="1.05" fill="#333"/><path d="M-5.6,16.6 Q0,19.6 5.6,16.6 L3.2,19.6 Q0,20.8 -3.2,19.6 Z" fill="#222"/><path d="M-4.5,17.5 L-9,16.8 M-4.5,18 L-8.8,19.6 M-4,18.6 L-6.8,21.6 M4.5,17.5 L9,16.8 M4.5,18 L8.8,19.6 M4,18.6 L6.8,21.6" stroke="#555" stroke-width="0.55"/><text x="0" y="2.9" font-size="9.3" fill="#222" text-anchor="middle" stroke="#222" stroke-width="0.16">NSG</text></g>
<text x="118.00" y="246.00" font-size="10.0" fill="#222" text-anchor="middle" stroke="#222" stroke-width="0.16">Body weight record</text>
<polyline fill="none" stroke="#3fbf55" stroke-width="1.2" points="65.70,262.40 65.70,258.60 172.50,258.60 172.50,262.40"/>
<polyline fill="none" stroke="#3333ff" stroke-width="1.3" points="38.40,266.80 38.40,272.40 175.30,272.40"/>
<line x1="100.20" y1="266.80" x2="100.20" y2="272.40" stroke="#3333ff" stroke-width="1.3"/>
<polyline fill="none" stroke="#3333ff" stroke-width="1.3" points="168.50,268.40 175.70,272.40 168.50,276.40"/>
<text x="37.00" y="286.80" font-size="10.0" fill="#222" text-anchor="middle" stroke="#222" stroke-width="0.16">Day 0</text>
<text x="37.00" y="298.80" font-size="10.0" fill="#222" text-anchor="middle" stroke="#222" stroke-width="0.16">THP1</text>
<text x="37.00" y="310.80" font-size="10.0" fill="#222" text-anchor="middle" stroke="#222" stroke-width="0.16">-FG</text>
<text x="37.00" y="322.80" font-size="10.0" fill="#222" text-anchor="middle" stroke="#222" stroke-width="0.16">(i.p.,</text>
<text x="37" y="334.8" font-size="10.0" text-anchor="middle" fill="#222" stroke="#222" stroke-width="0.16">1 x 10<tspan font-size="6.9" dy="-3.7">7</tspan><tspan dy="3.7">)</tspan></text>
<text x="101.00" y="286.80" font-size="10.0" fill="#222" text-anchor="middle" stroke="#222" stroke-width="0.16">Day 10</text>
<text x="101" y="298.8" font-size="10.0" text-anchor="middle" fill="#222" stroke="#222" stroke-width="0.16"><tspan fill="#ff2a2a" font-size="6.9" dy="-3.7" stroke="#ff2a2a" stroke-width="0.16">Allo</tspan><tspan fill="#ff2a2a" dy="3.7" stroke="#ff2a2a" stroke-width="0.16">CAR70-NKT</tspan>,</text>
<text x="101" y="310.8" font-size="10.0" text-anchor="middle" fill="#222" stroke="#222" stroke-width="0.16"><tspan fill="#3535ff" font-size="6.9" dy="-3.7" stroke="#3535ff" stroke-width="0.16">PBMC</tspan><tspan fill="#3535ff" dy="3.7" stroke="#3535ff" stroke-width="0.16">CAR70-NKT</tspan>,</text>
<text x="101" y="322.8" font-size="10.0" text-anchor="middle" fill="#222" stroke="#222" stroke-width="0.16">or <tspan fill="#44bb55" stroke="#44bb55" stroke-width="0.16">CAR70-T</tspan></text>
<text x="101" y="334.8" font-size="10.0" text-anchor="middle" fill="#222" stroke="#222" stroke-width="0.16">(i.p., 10 x 10<tspan font-size="6.9" dy="-3.7">6</tspan><tspan dy="3.7">)</tspan></text>
<text x="172.50" y="286.80" font-size="10.0" fill="#222" text-anchor="middle" stroke="#222" stroke-width="0.16">Day 13</text>
<text x="172.50" y="298.80" font-size="10.0" fill="#222" text-anchor="middle" stroke="#222" stroke-width="0.16">Serum and</text>
<text x="172.50" y="310.80" font-size="10.0" fill="#222" text-anchor="middle" stroke="#222" stroke-width="0.16">peritoneal</text>
<text x="172.50" y="322.80" font-size="10.0" fill="#222" text-anchor="middle" stroke="#222" stroke-width="0.16">fluid</text>
<text x="172.50" y="334.80" font-size="10.0" fill="#222" text-anchor="middle" stroke="#222" stroke-width="0.16">collection</text>
<text x="210.30" y="190.10" font-size="15.2" fill="#111" font-weight="bold">F</text>
<line x1="266.10" y1="232.10" x2="266.10" y2="312.50" stroke="#222" stroke-width="1.4"/>
<line x1="262.40" y1="312.00" x2="266.10" y2="312.00" stroke="#222" stroke-width="1.4"/>
<text x="261.40" y="315.31" font-size="9.2" fill="#222" text-anchor="end" stroke="#222" stroke-width="0.16">80</text>
<line x1="262.40" y1="296.12" x2="266.10" y2="296.12" stroke="#222" stroke-width="1.4"/>
<text x="261.40" y="299.43" font-size="9.2" fill="#222" text-anchor="end" stroke="#222" stroke-width="0.16">85</text>
<line x1="262.40" y1="280.24" x2="266.10" y2="280.24" stroke="#222" stroke-width="1.4"/>
<text x="261.40" y="283.55" font-size="9.2" fill="#222" text-anchor="end" stroke="#222" stroke-width="0.16">90</text>
<line x1="262.40" y1="264.36" x2="266.10" y2="264.36" stroke="#222" stroke-width="1.4"/>
<text x="261.40" y="267.67" font-size="9.2" fill="#222" text-anchor="end" stroke="#222" stroke-width="0.16">95</text>
<line x1="262.40" y1="248.48" x2="266.10" y2="248.48" stroke="#222" stroke-width="1.4"/>
<text x="261.40" y="251.79" font-size="9.2" fill="#222" text-anchor="end" stroke="#222" stroke-width="0.16">100</text>
<line x1="262.40" y1="232.60" x2="266.10" y2="232.60" stroke="#222" stroke-width="1.4"/>
<text x="261.40" y="235.91" font-size="9.2" fill="#222" text-anchor="end" stroke="#222" stroke-width="0.16">105</text>
<line x1="265.60" y1="312.00" x2="385.50" y2="312.00" stroke="#222" stroke-width="1.4"/>
<line x1="274.70" y1="312.00" x2="274.70" y2="315.70" stroke="#222" stroke-width="1.3"/>
<text x="276.70" y="322.90" font-size="9.4" fill="#222" text-anchor="end" transform="rotate(-45 276.70 322.90)" stroke="#222" stroke-width="0.16">10</text>
<line x1="287.53" y1="312.00" x2="287.53" y2="315.70" stroke="#222" stroke-width="1.3"/>
<text x="289.53" y="322.90" font-size="9.4" fill="#222" text-anchor="end" transform="rotate(-45 289.53 322.90)" stroke="#222" stroke-width="0.16">11</text>
<line x1="300.36" y1="312.00" x2="300.36" y2="315.70" stroke="#222" stroke-width="1.3"/>
<text x="302.36" y="322.90" font-size="9.4" fill="#222" text-anchor="end" transform="rotate(-45 302.36 322.90)" stroke="#222" stroke-width="0.16">12</text>
<line x1="313.19" y1="312.00" x2="313.19" y2="315.70" stroke="#222" stroke-width="1.3"/>
<text x="315.19" y="322.90" font-size="9.4" fill="#222" text-anchor="end" transform="rotate(-45 315.19 322.90)" stroke="#222" stroke-width="0.16">13</text>
<line x1="326.02" y1="312.00" x2="326.02" y2="315.70" stroke="#222" stroke-width="1.3"/>
<text x="328.02" y="322.90" font-size="9.4" fill="#222" text-anchor="end" transform="rotate(-45 328.02 322.90)" stroke="#222" stroke-width="0.16">14</text>
<line x1="338.85" y1="312.00" x2="338.85" y2="315.70" stroke="#222" stroke-width="1.3"/>
<text x="340.85" y="322.90" font-size="9.4" fill="#222" text-anchor="end" transform="rotate(-45 340.85 322.90)" stroke="#222" stroke-width="0.16">15</text>
<line x1="351.68" y1="312.00" x2="351.68" y2="315.70" stroke="#222" stroke-width="1.3"/>
<text x="353.68" y="322.90" font-size="9.4" fill="#222" text-anchor="end" transform="rotate(-45 353.68 322.90)" stroke="#222" stroke-width="0.16">16</text>
<line x1="364.51" y1="312.00" x2="364.51" y2="315.70" stroke="#222" stroke-width="1.3"/>
<text x="366.51" y="322.90" font-size="9.4" fill="#222" text-anchor="end" transform="rotate(-45 366.51 322.90)" stroke="#222" stroke-width="0.16">17</text>
<line x1="377.34" y1="312.00" x2="377.34" y2="315.70" stroke="#222" stroke-width="1.3"/>
<text x="379.34" y="322.90" font-size="9.4" fill="#222" text-anchor="end" transform="rotate(-45 379.34 322.90)" stroke="#222" stroke-width="0.16">18</text>
<text x="326.30" y="341.00" font-size="9.7" fill="#222" text-anchor="middle" stroke="#222" stroke-width="0.16">Day(s)</text>
<text x="230.30" y="270.30" font-size="9.9" fill="#222" text-anchor="middle" transform="rotate(-90 230.30 270.30)" stroke="#222" stroke-width="0.16">% Body weight of</text>
<text x="240.40" y="271.30" font-size="9.9" fill="#222" text-anchor="middle" transform="rotate(-90 240.40 271.30)" stroke="#222" stroke-width="0.16">initial body weight</text>
<line x1="266.10" y1="296.12" x2="381.50" y2="296.12" stroke="#222" stroke-width="1.0" stroke-dasharray="3,2"/>
<line x1="287.53" y1="261.82" x2="287.53" y2="258.64" stroke="#3a9a58" stroke-width="1.2"/>
<line x1="285.33" y1="261.82" x2="289.73" y2="261.82" stroke="#3a9a58" stroke-width="1.2"/>
<line x1="285.33" y1="258.64" x2="289.73" y2="258.64" stroke="#3a9a58" stroke-width="1.2"/>
<line x1="300.36" y1="271.35" x2="300.36" y2="265.00" stroke="#3a9a58" stroke-width="1.2"/>
<line x1="298.16" y1="271.35" x2="302.56" y2="271.35" stroke="#3a9a58" stroke-width="1.2"/>
<line x1="298.16" y1="265.00" x2="302.56" y2="265.00" stroke="#3a9a58" stroke-width="1.2"/>
<line x1="313.19" y1="294.21" x2="313.19" y2="283.42" stroke="#3a9a58" stroke-width="1.2"/>
<line x1="310.99" y1="294.21" x2="315.39" y2="294.21" stroke="#3a9a58" stroke-width="1.2"/>
<line x1="310.99" y1="283.42" x2="315.39" y2="283.42" stroke="#3a9a58" stroke-width="1.2"/>
<line x1="326.02" y1="303.11" x2="326.02" y2="293.58" stroke="#3a9a58" stroke-width="1.2"/>
<line x1="323.82" y1="303.11" x2="328.22" y2="303.11" stroke="#3a9a58" stroke-width="1.2"/>
<line x1="323.82" y1="293.58" x2="328.22" y2="293.58" stroke="#3a9a58" stroke-width="1.2"/>
<line x1="338.85" y1="299.30" x2="338.85" y2="292.94" stroke="#3a9a58" stroke-width="1.2"/>
<line x1="336.65" y1="299.30" x2="341.05" y2="299.30" stroke="#3a9a58" stroke-width="1.2"/>
<line x1="336.65" y1="292.94" x2="341.05" y2="292.94" stroke="#3a9a58" stroke-width="1.2"/>
<line x1="351.68" y1="293.26" x2="351.68" y2="284.37" stroke="#3a9a58" stroke-width="1.2"/>
<line x1="349.48" y1="293.26" x2="353.88" y2="293.26" stroke="#3a9a58" stroke-width="1.2"/>
<line x1="349.48" y1="284.37" x2="353.88" y2="284.37" stroke="#3a9a58" stroke-width="1.2"/>
<line x1="364.51" y1="278.65" x2="364.51" y2="272.30" stroke="#3a9a58" stroke-width="1.2"/>
<line x1="362.31" y1="278.65" x2="366.71" y2="278.65" stroke="#3a9a58" stroke-width="1.2"/>
<line x1="362.31" y1="272.30" x2="366.71" y2="272.30" stroke="#3a9a58" stroke-width="1.2"/>
<line x1="377.34" y1="282.46" x2="377.34" y2="274.84" stroke="#3a9a58" stroke-width="1.2"/>
<line x1="375.14" y1="282.46" x2="379.54" y2="282.46" stroke="#3a9a58" stroke-width="1.2"/>
<line x1="375.14" y1="274.84" x2="379.54" y2="274.84" stroke="#3a9a58" stroke-width="1.2"/>
<polyline fill="none" stroke="#3a9a58" stroke-width="1.5" points="274.70,248.48 287.53,260.23 300.36,268.17 313.19,288.82 326.02,298.34 338.85,296.12 351.68,288.82 364.51,275.48 377.34,278.65"/>
<polygon fill="#3a9a58" points="273.23,249.66 276.17,249.66 274.70,247.16"/>
<polygon fill="#3a9a58" points="286.06,261.41 289.00,261.41 287.53,258.91"/>
<polygon fill="#3a9a58" points="298.89,269.35 301.83,269.35 300.36,266.85"/>
<polygon fill="#3a9a58" points="311.72,289.99 314.66,289.99 313.19,287.49"/>
<polygon fill="#3a9a58" points="324.55,299.52 327.49,299.52 326.02,297.02"/>
<polygon fill="#3a9a58" points="337.38,297.30 340.32,297.30 338.85,294.80"/>
<polygon fill="#3a9a58" points="350.21,289.99 353.15,289.99 351.68,287.49"/>
<polygon fill="#3a9a58" points="363.04,276.65 365.98,276.65 364.51,274.15"/>
<polygon fill="#3a9a58" points="375.87,279.83 378.81,279.83 377.34,277.33"/>
<line x1="287.53" y1="257.69" x2="287.53" y2="250.07" stroke="#3535ff" stroke-width="1.2"/>
<line x1="285.33" y1="257.69" x2="289.73" y2="257.69" stroke="#3535ff" stroke-width="1.2"/>
<line x1="285.33" y1="250.07" x2="289.73" y2="250.07" stroke="#3535ff" stroke-width="1.2"/>
<line x1="300.36" y1="259.91" x2="300.36" y2="252.93" stroke="#3535ff" stroke-width="1.2"/>
<line x1="298.16" y1="259.91" x2="302.56" y2="259.91" stroke="#3535ff" stroke-width="1.2"/>
<line x1="298.16" y1="252.93" x2="302.56" y2="252.93" stroke="#3535ff" stroke-width="1.2"/>
<line x1="313.19" y1="259.28" x2="313.19" y2="251.66" stroke="#3535ff" stroke-width="1.2"/>
<line x1="310.99" y1="259.28" x2="315.39" y2="259.28" stroke="#3535ff" stroke-width="1.2"/>
<line x1="310.99" y1="251.66" x2="315.39" y2="251.66" stroke="#3535ff" stroke-width="1.2"/>
<line x1="326.02" y1="254.83" x2="326.02" y2="251.66" stroke="#3535ff" stroke-width="1.2"/>
<line x1="323.82" y1="254.83" x2="328.22" y2="254.83" stroke="#3535ff" stroke-width="1.2"/>
<line x1="323.82" y1="251.66" x2="328.22" y2="251.66" stroke="#3535ff" stroke-width="1.2"/>
<line x1="338.85" y1="259.60" x2="338.85" y2="254.51" stroke="#3535ff" stroke-width="1.2"/>
<line x1="336.65" y1="259.60" x2="341.05" y2="259.60" stroke="#3535ff" stroke-width="1.2"/>
<line x1="336.65" y1="254.51" x2="341.05" y2="254.51" stroke="#3535ff" stroke-width="1.2"/>
<line x1="351.68" y1="257.06" x2="351.68" y2="253.88" stroke="#3535ff" stroke-width="1.2"/>
<line x1="349.48" y1="257.06" x2="353.88" y2="257.06" stroke="#3535ff" stroke-width="1.2"/>
<line x1="349.48" y1="253.88" x2="353.88" y2="253.88" stroke="#3535ff" stroke-width="1.2"/>
<line x1="364.51" y1="257.37" x2="364.51" y2="253.56" stroke="#3535ff" stroke-width="1.2"/>
<line x1="362.31" y1="257.37" x2="366.71" y2="257.37" stroke="#3535ff" stroke-width="1.2"/>
<line x1="362.31" y1="253.56" x2="366.71" y2="253.56" stroke="#3535ff" stroke-width="1.2"/>
<line x1="377.34" y1="255.78" x2="377.34" y2="251.97" stroke="#3535ff" stroke-width="1.2"/>
<line x1="375.14" y1="255.78" x2="379.54" y2="255.78" stroke="#3535ff" stroke-width="1.2"/>
<line x1="375.14" y1="251.97" x2="379.54" y2="251.97" stroke="#3535ff" stroke-width="1.2"/>
<polyline fill="none" stroke="#3535ff" stroke-width="1.5" points="274.70,248.48 287.53,253.88 300.36,256.42 313.19,255.47 326.02,253.24 338.85,257.06 351.68,255.47 364.51,255.47 377.34,253.88"/>
<rect x="272.80" y="246.58" width="3.80" height="3.80" fill="#3535ff"/>
<rect x="285.63" y="251.98" width="3.80" height="3.80" fill="#3535ff"/>
<rect x="298.46" y="254.52" width="3.80" height="3.80" fill="#3535ff"/>
<rect x="311.29" y="253.57" width="3.80" height="3.80" fill="#3535ff"/>
<rect x="324.12" y="251.34" width="3.80" height="3.80" fill="#3535ff"/>
<rect x="336.95" y="255.16" width="3.80" height="3.80" fill="#3535ff"/>
<rect x="349.78" y="253.57" width="3.80" height="3.80" fill="#3535ff"/>
<rect x="362.61" y="253.57" width="3.80" height="3.80" fill="#3535ff"/>
<rect x="375.44" y="251.98" width="3.80" height="3.80" fill="#3535ff"/>
<line x1="287.53" y1="254.83" x2="287.53" y2="249.75" stroke="#ff2a2a" stroke-width="1.2"/>
<line x1="285.33" y1="254.83" x2="289.73" y2="254.83" stroke="#ff2a2a" stroke-width="1.2"/>
<line x1="285.33" y1="249.75" x2="289.73" y2="249.75" stroke="#ff2a2a" stroke-width="1.2"/>
<line x1="300.36" y1="255.78" x2="300.36" y2="250.70" stroke="#ff2a2a" stroke-width="1.2"/>
<line x1="298.16" y1="255.78" x2="302.56" y2="255.78" stroke="#ff2a2a" stroke-width="1.2"/>
<line x1="298.16" y1="250.70" x2="302.56" y2="250.70" stroke="#ff2a2a" stroke-width="1.2"/>
<line x1="313.19" y1="257.69" x2="313.19" y2="251.97" stroke="#ff2a2a" stroke-width="1.2"/>
<line x1="310.99" y1="257.69" x2="315.39" y2="257.69" stroke="#ff2a2a" stroke-width="1.2"/>
<line x1="310.99" y1="251.97" x2="315.39" y2="251.97" stroke="#ff2a2a" stroke-width="1.2"/>
<line x1="326.02" y1="253.88" x2="326.02" y2="250.70" stroke="#ff2a2a" stroke-width="1.2"/>
<line x1="323.82" y1="253.88" x2="328.22" y2="253.88" stroke="#ff2a2a" stroke-width="1.2"/>
<line x1="323.82" y1="250.70" x2="328.22" y2="250.70" stroke="#ff2a2a" stroke-width="1.2"/>
<line x1="338.85" y1="256.74" x2="338.85" y2="251.02" stroke="#ff2a2a" stroke-width="1.2"/>
<line x1="336.65" y1="256.74" x2="341.05" y2="256.74" stroke="#ff2a2a" stroke-width="1.2"/>
<line x1="336.65" y1="251.02" x2="341.05" y2="251.02" stroke="#ff2a2a" stroke-width="1.2"/>
<line x1="351.68" y1="254.51" x2="351.68" y2="250.70" stroke="#ff2a2a" stroke-width="1.2"/>
<line x1="349.48" y1="254.51" x2="353.88" y2="254.51" stroke="#ff2a2a" stroke-width="1.2"/>
<line x1="349.48" y1="250.70" x2="353.88" y2="250.70" stroke="#ff2a2a" stroke-width="1.2"/>
<line x1="364.51" y1="251.66" x2="364.51" y2="246.57" stroke="#ff2a2a" stroke-width="1.2"/>
<line x1="362.31" y1="251.66" x2="366.71" y2="251.66" stroke="#ff2a2a" stroke-width="1.2"/>
<line x1="362.31" y1="246.57" x2="366.71" y2="246.57" stroke="#ff2a2a" stroke-width="1.2"/>
<line x1="377.34" y1="253.88" x2="377.34" y2="250.07" stroke="#ff2a2a" stroke-width="1.2"/>
<line x1="375.14" y1="253.88" x2="379.54" y2="253.88" stroke="#ff2a2a" stroke-width="1.2"/>
<line x1="375.14" y1="250.07" x2="379.54" y2="250.07" stroke="#ff2a2a" stroke-width="1.2"/>
<polyline fill="none" stroke="#ff2a2a" stroke-width="1.5" points="274.70,248.48 287.53,252.29 300.36,253.24 313.19,254.83 326.02,252.29 338.85,253.88 351.68,252.61 364.51,249.12 377.34,251.97"/>
<circle cx="274.70" cy="248.48" r="1.9" fill="#ff2a2a" stroke="none" stroke-width="0"/>
<circle cx="287.53" cy="252.29" r="1.9" fill="#ff2a2a" stroke="none" stroke-width="0"/>
<circle cx="300.36" cy="253.24" r="1.9" fill="#ff2a2a" stroke="none" stroke-width="0"/>
<circle cx="313.19" cy="254.83" r="1.9" fill="#ff2a2a" stroke="none" stroke-width="0"/>
<circle cx="326.02" cy="252.29" r="1.9" fill="#ff2a2a" stroke="none" stroke-width="0"/>
<circle cx="338.85" cy="253.88" r="1.9" fill="#ff2a2a" stroke="none" stroke-width="0"/>
<circle cx="351.68" cy="252.61" r="1.9" fill="#ff2a2a" stroke="none" stroke-width="0"/>
<circle cx="364.51" cy="249.12" r="1.9" fill="#ff2a2a" stroke="none" stroke-width="0"/>
<circle cx="377.34" cy="251.97" r="1.9" fill="#ff2a2a" stroke="none" stroke-width="0"/>
<line x1="287.53" y1="252.93" x2="287.53" y2="248.48" stroke="#222" stroke-width="1.2"/>
<line x1="285.33" y1="252.93" x2="289.73" y2="252.93" stroke="#222" stroke-width="1.2"/>
<line x1="285.33" y1="248.48" x2="289.73" y2="248.48" stroke="#222" stroke-width="1.2"/>
<line x1="338.85" y1="252.93" x2="338.85" y2="247.21" stroke="#222" stroke-width="1.2"/>
<line x1="336.65" y1="252.93" x2="341.05" y2="252.93" stroke="#222" stroke-width="1.2"/>
<line x1="336.65" y1="247.21" x2="341.05" y2="247.21" stroke="#222" stroke-width="1.2"/>
<polyline fill="none" stroke="#222" stroke-width="1.5" points="274.70,248.48 287.53,250.70 300.36,248.48 313.19,248.48 326.02,248.48 338.85,250.07 351.68,246.89 364.51,247.53 377.34,247.84"/>
<circle cx="274.70" cy="248.48" r="1.9" fill="#222" stroke="none" stroke-width="0"/>
<circle cx="287.53" cy="250.70" r="1.9" fill="#222" stroke="none" stroke-width="0"/>
<circle cx="300.36" cy="248.48" r="1.9" fill="#222" stroke="none" stroke-width="0"/>
<circle cx="313.19" cy="248.48" r="1.9" fill="#222" stroke="none" stroke-width="0"/>
<circle cx="326.02" cy="248.48" r="1.9" fill="#222" stroke="none" stroke-width="0"/>
<circle cx="338.85" cy="250.07" r="1.9" fill="#222" stroke="none" stroke-width="0"/>
<circle cx="351.68" cy="246.89" r="1.9" fill="#222" stroke="none" stroke-width="0"/>
<circle cx="364.51" cy="247.53" r="1.9" fill="#222" stroke="none" stroke-width="0"/>
<circle cx="377.34" cy="247.84" r="1.9" fill="#222" stroke="none" stroke-width="0"/>
<line x1="270.00" y1="193.20" x2="281.00" y2="193.20" stroke="#222" stroke-width="1.3"/>
<circle cx="275.50" cy="193.20" r="1.4249999999999998" fill="#222" stroke="none" stroke-width="0"/>
<text x="286.00" y="196.80" font-size="9.85" fill="#222" stroke="#222" stroke-width="0.16">No treatment</text>
<line x1="270.00" y1="206.40" x2="281.00" y2="206.40" stroke="#ff2a2a" stroke-width="1.3"/>
<circle cx="275.50" cy="206.40" r="1.615" fill="#ff2a2a" stroke="none" stroke-width="0"/>
<line x1="270.00" y1="219.50" x2="281.00" y2="219.50" stroke="#3535ff" stroke-width="1.3"/>
<rect x="273.88" y="217.88" width="3.23" height="3.23" fill="#3535ff"/>
<line x1="270.00" y1="234.00" x2="281.00" y2="234.00" stroke="#3a9a58" stroke-width="1.3"/>
<polygon fill="#3a9a58" points="273.71,235.43 277.29,235.43 275.50,232.39"/>
<text x="286" y="212.50" font-size="9.85" fill="#ff2a2a" stroke="#ff2a2a" stroke-width="0.16"><tspan font-size="7.3" dy="-3.6">Allo</tspan><tspan dy="3.6">CAR70-NKT</tspan></text>
<text x="286" y="225.60" font-size="9.85" fill="#3535ff" stroke="#3535ff" stroke-width="0.16"><tspan font-size="7.3" dy="-3.6">PBMC</tspan><tspan dy="3.6">CAR70-NKT</tspan></text>
<text x="286" y="237.60" font-size="9.85" fill="#3a9a58" stroke="#3a9a58" stroke-width="0.16">CAR70-T</text>
<text x="400.30" y="190.10" font-size="15.2" fill="#111" font-weight="bold">G</text>
<line x1="464.30" y1="201.28" x2="464.30" y2="301.60" stroke="#222" stroke-width="1.4"/>
<line x1="460.60" y1="301.10" x2="464.30" y2="301.10" stroke="#222" stroke-width="1.4"/>
<text x="459.60" y="304.52" font-size="9.5" fill="#222" text-anchor="end" stroke="#222" stroke-width="0.16">0</text>
<line x1="460.60" y1="276.27" x2="464.30" y2="276.27" stroke="#222" stroke-width="1.4"/>
<text x="459.60" y="279.69" font-size="9.5" fill="#222" text-anchor="end" stroke="#222" stroke-width="0.16">300</text>
<line x1="460.60" y1="251.44" x2="464.30" y2="251.44" stroke="#222" stroke-width="1.4"/>
<text x="459.60" y="254.86" font-size="9.5" fill="#222" text-anchor="end" stroke="#222" stroke-width="0.16">600</text>
<line x1="460.60" y1="226.61" x2="464.30" y2="226.61" stroke="#222" stroke-width="1.4"/>
<text x="459.60" y="230.03" font-size="9.5" fill="#222" text-anchor="end" stroke="#222" stroke-width="0.16">900</text>
<line x1="460.60" y1="201.78" x2="464.30" y2="201.78" stroke="#222" stroke-width="1.4"/>
<text x="459.60" y="205.20" font-size="9.5" fill="#222" text-anchor="end" stroke="#222" stroke-width="0.16">1200</text>
<line x1="463.80" y1="301.10" x2="540.60" y2="301.10" stroke="#222" stroke-width="1.4"/>
<line x1="473.60" y1="301.10" x2="473.60" y2="304.80" stroke="#222" stroke-width="1.3"/>
<line x1="488.30" y1="301.10" x2="488.30" y2="304.80" stroke="#222" stroke-width="1.3"/>
<line x1="502.60" y1="301.10" x2="502.60" y2="304.80" stroke="#222" stroke-width="1.3"/>
<line x1="516.80" y1="301.10" x2="516.80" y2="304.80" stroke="#222" stroke-width="1.3"/>
<line x1="531.30" y1="301.10" x2="531.30" y2="304.80" stroke="#222" stroke-width="1.3"/>
<circle cx="473.60" cy="300.69" r="1.7920000000000003" fill="#fff" stroke="#222" stroke-width="1.1"/>
<circle cx="471.70" cy="300.44" r="1.7920000000000003" fill="#fff" stroke="#222" stroke-width="1.1"/>
<circle cx="475.50" cy="300.11" r="1.7920000000000003" fill="#fff" stroke="#222" stroke-width="1.1"/>
<circle cx="473.60" cy="299.78" r="1.7920000000000003" fill="#fff" stroke="#222" stroke-width="1.1"/>
<circle cx="471.70" cy="299.44" r="1.7920000000000003" fill="#fff" stroke="#222" stroke-width="1.1"/>
<line x1="468.40" y1="300.09" x2="478.80" y2="300.09" stroke="#222" stroke-width="1.5"/>
<line x1="473.60" y1="300.31" x2="473.60" y2="299.87" stroke="#222" stroke-width="1.3"/>
<line x1="471.00" y1="300.31" x2="476.20" y2="300.31" stroke="#222" stroke-width="1.3"/>
<line x1="471.00" y1="299.87" x2="476.20" y2="299.87" stroke="#222" stroke-width="1.3"/>
<polygon fill="#222" points="485.95,295.49 490.65,295.49 488.30,299.49"/>
<polygon fill="#222" points="484.05,294.67 488.75,294.67 486.40,298.66"/>
<polygon fill="#222" points="487.85,294.25 492.55,294.25 490.20,298.25"/>
<polygon fill="#222" points="485.95,293.84 490.65,293.84 488.30,297.84"/>
<polygon fill="#222" points="484.05,293.01 488.75,293.01 486.40,297.01"/>
<line x1="483.10" y1="296.13" x2="493.50" y2="296.13" stroke="#222" stroke-width="1.5"/>
<line x1="488.30" y1="296.55" x2="488.30" y2="295.72" stroke="#222" stroke-width="1.3"/>
<line x1="485.70" y1="296.55" x2="490.90" y2="296.55" stroke="#222" stroke-width="1.3"/>
<line x1="485.70" y1="295.72" x2="490.90" y2="295.72" stroke="#222" stroke-width="1.3"/>
<circle cx="502.60" cy="279.58" r="2.128" fill="#ff2a2a" stroke="none" stroke-width="0"/>
<circle cx="499.60" cy="281.65" r="2.128" fill="#ff2a2a" stroke="none" stroke-width="0"/>
<circle cx="502.60" cy="285.46" r="2.128" fill="#ff2a2a" stroke="none" stroke-width="0"/>
<circle cx="502.60" cy="292.33" r="2.128" fill="#ff2a2a" stroke="none" stroke-width="0"/>
<circle cx="499.60" cy="295.55" r="2.128" fill="#ff2a2a" stroke="none" stroke-width="0"/>
<line x1="497.40" y1="286.91" x2="507.80" y2="286.91" stroke="#ff2a2a" stroke-width="1.5"/>
<line x1="502.60" y1="289.98" x2="502.60" y2="283.85" stroke="#ff2a2a" stroke-width="1.3"/>
<line x1="500.00" y1="289.98" x2="505.20" y2="289.98" stroke="#ff2a2a" stroke-width="1.3"/>
<line x1="500.00" y1="283.85" x2="505.20" y2="283.85" stroke="#ff2a2a" stroke-width="1.3"/>
<rect x="514.67" y="263.47" width="4.26" height="4.26" fill="#3535ff"/>
<rect x="511.67" y="267.93" width="4.26" height="4.26" fill="#3535ff"/>
<rect x="514.67" y="275.63" width="4.26" height="4.26" fill="#3535ff"/>
<rect x="511.67" y="279.85" width="4.26" height="4.26" fill="#3535ff"/>
<rect x="517.67" y="283.25" width="4.26" height="4.26" fill="#3535ff"/>
<line x1="511.60" y1="276.15" x2="522.00" y2="276.15" stroke="#3535ff" stroke-width="1.5"/>
<line x1="516.80" y1="279.83" x2="516.80" y2="272.48" stroke="#3535ff" stroke-width="1.3"/>
<line x1="514.20" y1="279.83" x2="519.40" y2="279.83" stroke="#3535ff" stroke-width="1.3"/>
<line x1="514.20" y1="272.48" x2="519.40" y2="272.48" stroke="#3535ff" stroke-width="1.3"/>
<polygon fill="#3a9a58" points="528.95,218.15 533.65,218.15 531.30,214.15"/>
<polygon fill="#3a9a58" points="525.95,222.20 530.65,222.20 528.30,218.20"/>
<polygon fill="#3a9a58" points="528.95,229.90 533.65,229.90 531.30,225.90"/>
<polygon fill="#3a9a58" points="528.95,238.26 533.65,238.26 531.30,234.26"/>
<polygon fill="#3a9a58" points="528.95,247.61 533.65,247.61 531.30,243.61"/>
<line x1="526.10" y1="229.34" x2="536.50" y2="229.34" stroke="#3a9a58" stroke-width="1.5"/>
<line x1="531.30" y1="234.69" x2="531.30" y2="223.99" stroke="#3a9a58" stroke-width="1.3"/>
<line x1="528.70" y1="234.69" x2="533.90" y2="234.69" stroke="#3a9a58" stroke-width="1.3"/>
<line x1="528.70" y1="223.99" x2="533.90" y2="223.99" stroke="#3a9a58" stroke-width="1.3"/>
<text x="434.20" y="248.30" font-size="10.3" fill="#222" text-anchor="middle" transform="rotate(-90 434.20 248.30)" stroke="#222" stroke-width="0.16">Mouse SAA-3 (pg/ml)</text>
<polyline fill="none" stroke="#222" stroke-width="1.2" points="473.60,290.60 473.60,288.40 488.30,288.40 488.30,290.60"/>
<text x="480.95" y="286.40" font-size="9.8" fill="#222" text-anchor="middle" stroke="#222" stroke-width="0.16">ns</text>
<polyline fill="none" stroke="#222" stroke-width="1.2" points="488.30,275.60 488.30,273.40 502.60,273.40 502.60,275.60"/>
<text x="495.45" y="271.40" font-size="9.8" fill="#222" text-anchor="middle" stroke="#222" stroke-width="0.16">ns</text>
<polyline fill="none" stroke="#222" stroke-width="1.2" points="473.60,267.70 473.60,265.50 502.60,265.50 502.60,267.70"/>
<text x="488.10" y="263.50" font-size="9.8" fill="#222" text-anchor="middle" stroke="#222" stroke-width="0.16">ns</text>
<polyline fill="none" stroke="#222" stroke-width="1.2" points="502.60,260.50 502.60,258.30 516.80,258.30 516.80,260.50"/>
<text x="509.70" y="256.30" font-size="9.8" fill="#222" text-anchor="middle" stroke="#222" stroke-width="0.16">ns</text>
<polyline fill="none" stroke="#222" stroke-width="1.2" points="488.30,252.50 488.30,250.30 516.80,250.30 516.80,252.50"/>
<polygon fill="#222" points="500.70,245.25 501.27,246.41 502.55,246.60 501.63,247.50 501.85,248.78 500.70,248.18 499.55,248.78 499.77,247.50 498.85,246.60 500.13,246.41"/>
<polygon fill="#222" points="504.40,245.25 504.97,246.41 506.25,246.60 505.33,247.50 505.55,248.78 504.40,248.18 503.25,248.78 503.47,247.50 502.55,246.60 503.83,246.41"/>
<polyline fill="none" stroke="#222" stroke-width="1.2" points="473.60,247.00 473.60,244.80 516.80,244.80 516.80,247.00"/>
<polygon fill="#222" points="491.50,239.75 492.07,240.91 493.35,241.10 492.43,242.00 492.65,243.28 491.50,242.68 490.35,243.28 490.57,242.00 489.65,241.10 490.93,240.91"/>
<polygon fill="#222" points="495.20,239.75 495.77,240.91 497.05,241.10 496.13,242.00 496.35,243.28 495.20,242.68 494.05,243.28 494.27,242.00 493.35,241.10 494.63,240.91"/>
<polygon fill="#222" points="498.90,239.75 499.47,240.91 500.75,241.10 499.83,242.00 500.05,243.28 498.90,242.68 497.75,243.28 497.97,242.00 497.05,241.10 498.33,240.91"/>
<polyline fill="none" stroke="#222" stroke-width="1.2" points="516.80,211.60 516.80,209.40 531.30,209.40 531.30,211.60"/>
<polygon fill="#222" points="518.50,204.35 519.07,205.51 520.35,205.70 519.43,206.60 519.65,207.88 518.50,207.28 517.35,207.88 517.57,206.60 516.65,205.70 517.93,205.51"/>
<polygon fill="#222" points="522.20,204.35 522.77,205.51 524.05,205.70 523.13,206.60 523.35,207.88 522.20,207.28 521.05,207.88 521.27,206.60 520.35,205.70 521.63,205.51"/>
<polygon fill="#222" points="525.90,204.35 526.47,205.51 527.75,205.70 526.83,206.60 527.05,207.88 525.90,207.28 524.75,207.88 524.97,206.60 524.05,205.70 525.33,205.51"/>
<polygon fill="#222" points="529.60,204.35 530.17,205.51 531.45,205.70 530.53,206.60 530.75,207.88 529.60,207.28 528.45,207.88 528.67,206.60 527.75,205.70 529.03,205.51"/>
<polyline fill="none" stroke="#222" stroke-width="1.2" points="502.60,205.40 502.60,203.20 531.30,203.20 531.30,205.40"/>
<polygon fill="#222" points="511.40,198.15 511.97,199.31 513.25,199.50 512.33,200.40 512.55,201.68 511.40,201.07 510.25,201.68 510.47,200.40 509.55,199.50 510.83,199.31"/>
<polygon fill="#222" points="515.10,198.15 515.67,199.31 516.95,199.50 516.03,200.40 516.25,201.68 515.10,201.07 513.95,201.68 514.17,200.40 513.25,199.50 514.53,199.31"/>
<polygon fill="#222" points="518.80,198.15 519.37,199.31 520.65,199.50 519.73,200.40 519.95,201.68 518.80,201.07 517.65,201.68 517.87,200.40 516.95,199.50 518.23,199.31"/>
<polygon fill="#222" points="522.50,198.15 523.07,199.31 524.35,199.50 523.43,200.40 523.65,201.68 522.50,201.07 521.35,201.68 521.57,200.40 520.65,199.50 521.93,199.31"/>
<polyline fill="none" stroke="#222" stroke-width="1.2" points="488.30,199.30 488.30,197.10 531.30,197.10 531.30,199.30"/>
<polygon fill="#222" points="504.25,192.05 504.82,193.21 506.10,193.40 505.18,194.30 505.40,195.58 504.25,194.97 503.10,195.58 503.32,194.30 502.40,193.40 503.68,193.21"/>
<polygon fill="#222" points="507.95,192.05 508.52,193.21 509.80,193.40 508.88,194.30 509.10,195.58 507.95,194.97 506.80,195.58 507.02,194.30 506.10,193.40 507.38,193.21"/>
<polygon fill="#222" points="511.65,192.05 512.22,193.21 513.50,193.40 512.58,194.30 512.80,195.58 511.65,194.97 510.50,195.58 510.72,194.30 509.80,193.40 511.08,193.21"/>
<polygon fill="#222" points="515.35,192.05 515.92,193.21 517.20,193.40 516.28,194.30 516.50,195.58 515.35,194.97 514.20,195.58 514.42,194.30 513.50,193.40 514.78,193.21"/>
<line x1="593.80" y1="201.00" x2="593.80" y2="300.80" stroke="#222" stroke-width="1.4"/>
<line x1="590.10" y1="300.30" x2="593.80" y2="300.30" stroke="#222" stroke-width="1.4"/>
<text x="589.10" y="303.72" font-size="9.5" fill="#222" text-anchor="end" stroke="#222" stroke-width="0.16">0</text>
<line x1="590.10" y1="275.60" x2="593.80" y2="275.60" stroke="#222" stroke-width="1.4"/>
<text x="589.10" y="279.02" font-size="9.5" fill="#222" text-anchor="end" stroke="#222" stroke-width="0.16">500</text>
<line x1="590.10" y1="250.90" x2="593.80" y2="250.90" stroke="#222" stroke-width="1.4"/>
<text x="589.10" y="254.32" font-size="9.5" fill="#222" text-anchor="end" stroke="#222" stroke-width="0.16">1000</text>
<line x1="590.10" y1="226.20" x2="593.80" y2="226.20" stroke="#222" stroke-width="1.4"/>
<text x="589.10" y="229.62" font-size="9.5" fill="#222" text-anchor="end" stroke="#222" stroke-width="0.16">1500</text>
<line x1="590.10" y1="201.50" x2="593.80" y2="201.50" stroke="#222" stroke-width="1.4"/>
<text x="589.10" y="204.92" font-size="9.5" fill="#222" text-anchor="end" stroke="#222" stroke-width="0.16">2000</text>
<line x1="593.30" y1="300.30" x2="670.40" y2="300.30" stroke="#222" stroke-width="1.4"/>
<line x1="603.80" y1="300.30" x2="603.80" y2="304.00" stroke="#222" stroke-width="1.3"/>
<line x1="618.40" y1="300.30" x2="618.40" y2="304.00" stroke="#222" stroke-width="1.3"/>
<line x1="632.20" y1="300.30" x2="632.20" y2="304.00" stroke="#222" stroke-width="1.3"/>
<line x1="646.50" y1="300.30" x2="646.50" y2="304.00" stroke="#222" stroke-width="1.3"/>
<line x1="661.60" y1="300.30" x2="661.60" y2="304.00" stroke="#222" stroke-width="1.3"/>
<circle cx="603.80" cy="300.05" r="1.7920000000000003" fill="#fff" stroke="#222" stroke-width="1.1"/>
<circle cx="601.90" cy="299.81" r="1.7920000000000003" fill="#fff" stroke="#222" stroke-width="1.1"/>
<circle cx="605.70" cy="299.56" r="1.7920000000000003" fill="#fff" stroke="#222" stroke-width="1.1"/>
<circle cx="603.80" cy="299.31" r="1.7920000000000003" fill="#fff" stroke="#222" stroke-width="1.1"/>
<circle cx="601.90" cy="299.06" r="1.7920000000000003" fill="#fff" stroke="#222" stroke-width="1.1"/>
<line x1="598.60" y1="299.56" x2="609.00" y2="299.56" stroke="#222" stroke-width="1.5"/>
<line x1="603.80" y1="299.73" x2="603.80" y2="299.38" stroke="#222" stroke-width="1.3"/>
<line x1="601.20" y1="299.73" x2="606.40" y2="299.73" stroke="#222" stroke-width="1.3"/>
<line x1="601.20" y1="299.38" x2="606.40" y2="299.38" stroke="#222" stroke-width="1.3"/>
<polygon fill="#222" points="616.05,298.42 620.75,298.42 618.40,302.42"/>
<polygon fill="#222" points="614.15,297.43 618.85,297.43 616.50,301.43"/>
<polygon fill="#222" points="617.95,296.34 622.65,296.34 620.30,300.34"/>
<polygon fill="#222" points="616.05,295.45 620.75,295.45 618.40,299.45"/>
<polygon fill="#222" points="614.15,293.03 618.85,293.03 616.50,297.03"/>
<line x1="613.20" y1="298.02" x2="623.60" y2="298.02" stroke="#222" stroke-width="1.5"/>
<line x1="618.40" y1="298.94" x2="618.40" y2="297.10" stroke="#222" stroke-width="1.3"/>
<line x1="615.80" y1="298.94" x2="621.00" y2="298.94" stroke="#222" stroke-width="1.3"/>
<line x1="615.80" y1="297.10" x2="621.00" y2="297.10" stroke="#222" stroke-width="1.3"/>
<circle cx="632.20" cy="285.43" r="2.128" fill="#ff2a2a" stroke="none" stroke-width="0"/>
<circle cx="629.20" cy="289.28" r="2.128" fill="#ff2a2a" stroke="none" stroke-width="0"/>
<circle cx="635.20" cy="290.52" r="2.128" fill="#ff2a2a" stroke="none" stroke-width="0"/>
<circle cx="632.20" cy="291.80" r="2.128" fill="#ff2a2a" stroke="none" stroke-width="0"/>
<circle cx="629.20" cy="295.11" r="2.128" fill="#ff2a2a" stroke="none" stroke-width="0"/>
<line x1="627.00" y1="290.43" x2="637.40" y2="290.43" stroke="#ff2a2a" stroke-width="1.5"/>
<line x1="632.20" y1="292.01" x2="632.20" y2="288.85" stroke="#ff2a2a" stroke-width="1.3"/>
<line x1="629.60" y1="292.01" x2="634.80" y2="292.01" stroke="#ff2a2a" stroke-width="1.3"/>
<line x1="629.60" y1="288.85" x2="634.80" y2="288.85" stroke="#ff2a2a" stroke-width="1.3"/>
<rect x="644.37" y="279.50" width="4.26" height="4.26" fill="#3535ff"/>
<rect x="641.37" y="282.56" width="4.26" height="4.26" fill="#3535ff"/>
<rect x="647.37" y="284.59" width="4.26" height="4.26" fill="#3535ff"/>
<rect x="641.37" y="287.16" width="4.26" height="4.26" fill="#3535ff"/>
<rect x="647.37" y="290.17" width="4.26" height="4.26" fill="#3535ff"/>
<line x1="641.30" y1="286.92" x2="651.70" y2="286.92" stroke="#3535ff" stroke-width="1.5"/>
<line x1="646.50" y1="288.76" x2="646.50" y2="285.08" stroke="#3535ff" stroke-width="1.3"/>
<line x1="643.90" y1="288.76" x2="649.10" y2="288.76" stroke="#3535ff" stroke-width="1.3"/>
<line x1="643.90" y1="285.08" x2="649.10" y2="285.08" stroke="#3535ff" stroke-width="1.3"/>
<polygon fill="#3a9a58" points="659.25,221.91 663.95,221.91 661.60,217.91"/>
<polygon fill="#3a9a58" points="659.25,230.06 663.95,230.06 661.60,226.06"/>
<polygon fill="#3a9a58" points="656.25,232.58 660.95,232.58 658.60,228.58"/>
<polygon fill="#3a9a58" points="662.25,234.70 666.95,234.70 664.60,230.70"/>
<polygon fill="#3a9a58" points="659.25,244.09 663.95,244.09 661.60,240.09"/>
<line x1="656.40" y1="230.78" x2="666.80" y2="230.78" stroke="#3a9a58" stroke-width="1.5"/>
<line x1="661.60" y1="234.37" x2="661.60" y2="227.20" stroke="#3a9a58" stroke-width="1.3"/>
<line x1="659.00" y1="234.37" x2="664.20" y2="234.37" stroke="#3a9a58" stroke-width="1.3"/>
<line x1="659.00" y1="227.20" x2="664.20" y2="227.20" stroke="#3a9a58" stroke-width="1.3"/>
<text x="565.00" y="249.50" font-size="10.2" fill="#222" text-anchor="middle" transform="rotate(-90 565.00 249.50)" stroke="#222" stroke-width="0.16">Mouse IL-6 (pg/ml)</text>
<polyline fill="none" stroke="#222" stroke-width="1.2" points="603.80,290.20 603.80,288.00 618.40,288.00 618.40,290.20"/>
<text x="611.10" y="286.00" font-size="9.8" fill="#222" text-anchor="middle" stroke="#222" stroke-width="0.16">ns</text>
<polyline fill="none" stroke="#222" stroke-width="1.2" points="618.40,274.90 618.40,272.70 632.20,272.70 632.20,274.90"/>
<text x="625.30" y="270.70" font-size="9.8" fill="#222" text-anchor="middle" stroke="#222" stroke-width="0.16">ns</text>
<polyline fill="none" stroke="#222" stroke-width="1.2" points="603.80,267.80 603.80,265.60 632.20,265.60 632.20,267.80"/>
<polygon fill="#222" points="618.00,260.55 618.57,261.71 619.85,261.90 618.93,262.80 619.15,264.08 618.00,263.48 616.85,264.08 617.07,262.80 616.15,261.90 617.43,261.71"/>
<polyline fill="none" stroke="#222" stroke-width="1.2" points="632.20,260.90 632.20,258.70 646.50,258.70 646.50,260.90"/>
<text x="639.35" y="256.70" font-size="9.8" fill="#222" text-anchor="middle" stroke="#222" stroke-width="0.16">ns</text>
<polyline fill="none" stroke="#222" stroke-width="1.2" points="618.40,252.80 618.40,250.60 646.50,250.60 646.50,252.80"/>
<polygon fill="#222" points="630.60,245.55 631.17,246.71 632.45,246.90 631.53,247.80 631.75,249.08 630.60,248.47 629.45,249.08 629.67,247.80 628.75,246.90 630.03,246.71"/>
<polygon fill="#222" points="634.30,245.55 634.87,246.71 636.15,246.90 635.23,247.80 635.45,249.08 634.30,248.47 633.15,249.08 633.37,247.80 632.45,246.90 633.73,246.71"/>
<polyline fill="none" stroke="#222" stroke-width="1.2" points="603.80,246.40 603.80,244.20 646.50,244.20 646.50,246.40"/>
<polygon fill="#222" points="623.30,239.15 623.87,240.31 625.15,240.50 624.23,241.40 624.45,242.68 623.30,242.07 622.15,242.68 622.37,241.40 621.45,240.50 622.73,240.31"/>
<polygon fill="#222" points="627.00,239.15 627.57,240.31 628.85,240.50 627.93,241.40 628.15,242.68 627.00,242.07 625.85,242.68 626.07,241.40 625.15,240.50 626.43,240.31"/>
<polyline fill="none" stroke="#222" stroke-width="1.2" points="646.50,210.80 646.50,208.60 661.60,208.60 661.60,210.80"/>
<polygon fill="#222" points="648.50,203.55 649.07,204.71 650.35,204.90 649.43,205.80 649.65,207.08 648.50,206.47 647.35,207.08 647.57,205.80 646.65,204.90 647.93,204.71"/>
<polygon fill="#222" points="652.20,203.55 652.77,204.71 654.05,204.90 653.13,205.80 653.35,207.08 652.20,206.47 651.05,207.08 651.27,205.80 650.35,204.90 651.63,204.71"/>
<polygon fill="#222" points="655.90,203.55 656.47,204.71 657.75,204.90 656.83,205.80 657.05,207.08 655.90,206.47 654.75,207.08 654.97,205.80 654.05,204.90 655.33,204.71"/>
<polygon fill="#222" points="659.60,203.55 660.17,204.71 661.45,204.90 660.53,205.80 660.75,207.08 659.60,206.47 658.45,207.08 658.67,205.80 657.75,204.90 659.03,204.71"/>
<polyline fill="none" stroke="#222" stroke-width="1.2" points="632.20,204.90 632.20,202.70 661.60,202.70 661.60,204.90"/>
<polygon fill="#222" points="641.35,197.65 641.92,198.81 643.20,199.00 642.28,199.90 642.50,201.18 641.35,200.57 640.20,201.18 640.42,199.90 639.50,199.00 640.78,198.81"/>
<polygon fill="#222" points="645.05,197.65 645.62,198.81 646.90,199.00 645.98,199.90 646.20,201.18 645.05,200.57 643.90,201.18 644.12,199.90 643.20,199.00 644.48,198.81"/>
<polygon fill="#222" points="648.75,197.65 649.32,198.81 650.60,199.00 649.68,199.90 649.90,201.18 648.75,200.57 647.60,201.18 647.82,199.90 646.90,199.00 648.18,198.81"/>
<polygon fill="#222" points="652.45,197.65 653.02,198.81 654.30,199.00 653.38,199.90 653.60,201.18 652.45,200.57 651.30,201.18 651.52,199.90 650.60,199.00 651.88,198.81"/>
<polyline fill="none" stroke="#222" stroke-width="1.2" points="618.40,198.60 618.40,196.40 661.60,196.40 661.60,198.60"/>
<polygon fill="#222" points="634.45,191.35 635.02,192.51 636.30,192.70 635.38,193.60 635.60,194.88 634.45,194.28 633.30,194.88 633.52,193.60 632.60,192.70 633.88,192.51"/>
<polygon fill="#222" points="638.15,191.35 638.72,192.51 640.00,192.70 639.08,193.60 639.30,194.88 638.15,194.28 637.00,194.88 637.22,193.60 636.30,192.70 637.58,192.51"/>
<polygon fill="#222" points="641.85,191.35 642.42,192.51 643.70,192.70 642.78,193.60 643.00,194.88 641.85,194.28 640.70,194.88 640.92,193.60 640.00,192.70 641.28,192.51"/>
<polygon fill="#222" points="645.55,191.35 646.12,192.51 647.40,192.70 646.48,193.60 646.70,194.88 645.55,194.28 644.40,194.88 644.62,193.60 643.70,192.70 644.98,192.51"/>
<circle cx="424.10" cy="320.20" r="2.16" fill="#fff" stroke="#222" stroke-width="1.1"/>
<text x="435.20" y="323.70" font-size="9.6" fill="#222" stroke="#222" stroke-width="0.16">Blank NSG</text>
<polygon fill="#222" points="508.56,317.73 514.24,317.73 511.40,322.55"/>
<text x="521.60" y="323.70" font-size="9.6" fill="#222" stroke="#222" stroke-width="0.16">No treatment</text>
<circle cx="601.90" cy="320.10" r="2.28" fill="#ff2a2a" stroke="none" stroke-width="0"/>
<text x="610.3" y="323.7" font-size="9.5" fill="#ff2a2a" stroke="#ff2a2a" stroke-width="0.16"><tspan font-size="6.5" dy="-3.3">Allo</tspan><tspan dy="3.3">CAR70-NKT</tspan></text>
<rect x="422.22" y="337.52" width="4.56" height="4.56" fill="#3535ff"/>
<text x="436.8" y="343.4" font-size="9.5" fill="#3535ff" stroke="#3535ff" stroke-width="0.16"><tspan font-size="6.5" dy="-3.3">PBMC</tspan><tspan dy="3.3">CAR70-NKT</tspan></text>
<polygon fill="#3fbf55" points="521.96,342.37 527.63,342.37 524.80,337.55"/>
<text x="538.80" y="343.60" font-size="9.6" fill="#3fbf55" stroke="#3fbf55" stroke-width="0.16">CAR70-T</text>
<text x="4.80" y="378.10" font-size="15.2" fill="#111" font-weight="bold">H</text>
<line x1="60.60" y1="398.80" x2="60.60" y2="460.40" stroke="#222" stroke-width="1.4"/>
<line x1="56.90" y1="459.90" x2="60.60" y2="459.90" stroke="#222" stroke-width="1.4"/>
<text x="55.90" y="463.28" font-size="9.4" fill="#222" text-anchor="end" stroke="#222" stroke-width="0.16">0</text>
<line x1="56.90" y1="444.75" x2="60.60" y2="444.75" stroke="#222" stroke-width="1.4"/>
<text x="55.90" y="448.13" font-size="9.4" fill="#222" text-anchor="end" stroke="#222" stroke-width="0.16">500</text>
<line x1="56.90" y1="429.60" x2="60.60" y2="429.60" stroke="#222" stroke-width="1.4"/>
<text x="55.90" y="432.98" font-size="9.4" fill="#222" text-anchor="end" stroke="#222" stroke-width="0.16">1000</text>
<line x1="56.90" y1="414.45" x2="60.60" y2="414.45" stroke="#222" stroke-width="1.4"/>
<text x="55.90" y="417.83" font-size="9.4" fill="#222" text-anchor="end" stroke="#222" stroke-width="0.16">1500</text>
<line x1="56.90" y1="399.30" x2="60.60" y2="399.30" stroke="#222" stroke-width="1.4"/>
<text x="55.90" y="402.68" font-size="9.4" fill="#222" text-anchor="end" stroke="#222" stroke-width="0.16">2000</text>
<line x1="60.10" y1="459.90" x2="131.90" y2="459.90" stroke="#222" stroke-width="1.4"/>
<line x1="69.30" y1="459.90" x2="69.30" y2="463.60" stroke="#222" stroke-width="1.3"/>
<line x1="82.90" y1="459.90" x2="82.90" y2="463.60" stroke="#222" stroke-width="1.3"/>
<line x1="96.30" y1="459.90" x2="96.30" y2="463.60" stroke="#222" stroke-width="1.3"/>
<line x1="109.60" y1="459.90" x2="109.60" y2="463.60" stroke="#222" stroke-width="1.3"/>
<line x1="123.20" y1="459.90" x2="123.20" y2="463.60" stroke="#222" stroke-width="1.3"/>
<circle cx="69.30" cy="459.90" r="1.7920000000000003" fill="#fff" stroke="#222" stroke-width="1.1"/>
<circle cx="67.40" cy="459.78" r="1.7920000000000003" fill="#fff" stroke="#222" stroke-width="1.1"/>
<circle cx="71.20" cy="459.66" r="1.7920000000000003" fill="#fff" stroke="#222" stroke-width="1.1"/>
<circle cx="69.30" cy="459.54" r="1.7920000000000003" fill="#fff" stroke="#222" stroke-width="1.1"/>
<circle cx="67.40" cy="459.42" r="1.7920000000000003" fill="#fff" stroke="#222" stroke-width="1.1"/>
<line x1="64.10" y1="459.66" x2="74.50" y2="459.66" stroke="#222" stroke-width="1.5"/>
<line x1="69.30" y1="459.74" x2="69.30" y2="459.57" stroke="#222" stroke-width="1.3"/>
<line x1="66.70" y1="459.74" x2="71.90" y2="459.74" stroke="#222" stroke-width="1.3"/>
<line x1="66.70" y1="459.57" x2="71.90" y2="459.57" stroke="#222" stroke-width="1.3"/>
<polygon fill="#222" points="80.55,458.02 85.25,458.02 82.90,462.02"/>
<polygon fill="#222" points="78.65,457.90 83.35,457.90 81.00,461.90"/>
<polygon fill="#222" points="82.45,457.78 87.15,457.78 84.80,461.77"/>
<polygon fill="#222" points="80.55,457.65 85.25,457.65 82.90,461.65"/>
<polygon fill="#222" points="78.65,457.53 83.35,457.53 81.00,461.53"/>
<line x1="77.70" y1="459.66" x2="88.10" y2="459.66" stroke="#222" stroke-width="1.5"/>
<line x1="82.90" y1="459.74" x2="82.90" y2="459.57" stroke="#222" stroke-width="1.3"/>
<line x1="80.30" y1="459.74" x2="85.50" y2="459.74" stroke="#222" stroke-width="1.3"/>
<line x1="80.30" y1="459.57" x2="85.50" y2="459.57" stroke="#222" stroke-width="1.3"/>
<circle cx="96.30" cy="406.88" r="2.128" fill="#ff2a2a" stroke="none" stroke-width="0"/>
<circle cx="96.30" cy="413.24" r="2.128" fill="#ff2a2a" stroke="none" stroke-width="0"/>
<circle cx="93.30" cy="417.48" r="2.128" fill="#ff2a2a" stroke="none" stroke-width="0"/>
<circle cx="99.30" cy="420.81" r="2.128" fill="#ff2a2a" stroke="none" stroke-width="0"/>
<circle cx="96.30" cy="425.05" r="2.128" fill="#ff2a2a" stroke="none" stroke-width="0"/>
<line x1="91.10" y1="416.69" x2="101.50" y2="416.69" stroke="#ff2a2a" stroke-width="1.5"/>
<line x1="96.30" y1="419.82" x2="96.30" y2="413.56" stroke="#ff2a2a" stroke-width="1.3"/>
<line x1="93.70" y1="419.82" x2="98.90" y2="419.82" stroke="#ff2a2a" stroke-width="1.3"/>
<line x1="93.70" y1="413.56" x2="98.90" y2="413.56" stroke="#ff2a2a" stroke-width="1.3"/>
<rect x="107.47" y="419.90" width="4.26" height="4.26" fill="#3535ff"/>
<rect x="104.47" y="421.71" width="4.26" height="4.26" fill="#3535ff"/>
<rect x="107.47" y="426.26" width="4.26" height="4.26" fill="#3535ff"/>
<rect x="104.47" y="428.68" width="4.26" height="4.26" fill="#3535ff"/>
<rect x="107.47" y="434.14" width="4.26" height="4.26" fill="#3535ff"/>
<line x1="104.40" y1="428.27" x2="114.80" y2="428.27" stroke="#3535ff" stroke-width="1.5"/>
<line x1="109.60" y1="430.81" x2="109.60" y2="425.73" stroke="#3535ff" stroke-width="1.3"/>
<line x1="107.00" y1="430.81" x2="112.20" y2="430.81" stroke="#3535ff" stroke-width="1.3"/>
<line x1="107.00" y1="425.73" x2="112.20" y2="425.73" stroke="#3535ff" stroke-width="1.3"/>
<polygon fill="#3a9a58" points="120.85,407.24 125.55,407.24 123.20,403.24"/>
<polygon fill="#3a9a58" points="117.85,410.27 122.55,410.27 120.20,406.27"/>
<polygon fill="#3a9a58" points="123.85,411.79 128.55,411.79 126.20,407.79"/>
<polygon fill="#3a9a58" points="120.85,413.30 125.55,413.30 123.20,409.30"/>
<polygon fill="#3a9a58" points="120.85,418.45 125.55,418.45 123.20,414.45"/>
<line x1="118.00" y1="410.33" x2="128.40" y2="410.33" stroke="#3a9a58" stroke-width="1.5"/>
<line x1="123.20" y1="412.18" x2="123.20" y2="408.47" stroke="#3a9a58" stroke-width="1.3"/>
<line x1="120.60" y1="412.18" x2="125.80" y2="412.18" stroke="#3a9a58" stroke-width="1.3"/>
<line x1="120.60" y1="408.47" x2="125.80" y2="408.47" stroke="#3a9a58" stroke-width="1.3"/>
<polyline fill="none" stroke="#222" stroke-width="1.2" points="69.90,452.80 69.90,450.60 82.30,450.60 82.30,452.80"/>
<text x="76.10" y="448.60" font-size="9.8" fill="#222" text-anchor="middle" stroke="#222" stroke-width="0.16">ns</text>
<polyline fill="none" stroke="#222" stroke-width="1.2" points="83.50,403.60 83.50,401.40 95.70,401.40 95.70,403.60"/>
<polygon fill="#222" points="84.05,396.35 84.62,397.51 85.90,397.70 84.98,398.60 85.20,399.88 84.05,399.27 82.90,399.88 83.12,398.60 82.20,397.70 83.48,397.51"/>
<polygon fill="#222" points="87.75,396.35 88.32,397.51 89.60,397.70 88.68,398.60 88.90,399.88 87.75,399.27 86.60,399.88 86.82,398.60 85.90,397.70 87.18,397.51"/>
<polygon fill="#222" points="91.45,396.35 92.02,397.51 93.30,397.70 92.38,398.60 92.60,399.88 91.45,399.27 90.30,399.88 90.52,398.60 89.60,397.70 90.88,397.51"/>
<polygon fill="#222" points="95.15,396.35 95.72,397.51 97.00,397.70 96.08,398.60 96.30,399.88 95.15,399.27 94.00,399.88 94.22,398.60 93.30,397.70 94.58,397.51"/>
<polyline fill="none" stroke="#222" stroke-width="1.2" points="96.90,403.60 96.90,401.40 109.00,401.40 109.00,403.60"/>
<polygon fill="#222" points="102.95,396.35 103.52,397.51 104.80,397.70 103.88,398.60 104.10,399.88 102.95,399.27 101.80,399.88 102.02,398.60 101.10,397.70 102.38,397.51"/>
<polyline fill="none" stroke="#222" stroke-width="1.2" points="110.20,403.60 110.20,401.40 122.60,401.40 122.60,403.60"/>
<polygon fill="#222" points="110.85,396.35 111.42,397.51 112.70,397.70 111.78,398.60 112.00,399.88 110.85,399.27 109.70,399.88 109.92,398.60 109.00,397.70 110.28,397.51"/>
<polygon fill="#222" points="114.55,396.35 115.12,397.51 116.40,397.70 115.48,398.60 115.70,399.88 114.55,399.27 113.40,399.88 113.62,398.60 112.70,397.70 113.98,397.51"/>
<polygon fill="#222" points="118.25,396.35 118.82,397.51 120.10,397.70 119.18,398.60 119.40,399.88 118.25,399.27 117.10,399.88 117.32,398.60 116.40,397.70 117.68,397.51"/>
<polygon fill="#222" points="121.95,396.35 122.52,397.51 123.80,397.70 122.88,398.60 123.10,399.88 121.95,399.27 120.80,399.88 121.02,398.60 120.10,397.70 121.38,397.51"/>
<polyline fill="none" stroke="#222" stroke-width="1.2" points="83.50,395.80 83.50,393.60 109.00,393.60 109.00,395.80"/>
<polygon fill="#222" points="90.70,388.55 91.27,389.71 92.55,389.90 91.63,390.80 91.85,392.08 90.70,391.48 89.55,392.08 89.77,390.80 88.85,389.90 90.13,389.71"/>
<polygon fill="#222" points="94.40,388.55 94.97,389.71 96.25,389.90 95.33,390.80 95.55,392.08 94.40,391.48 93.25,392.08 93.47,390.80 92.55,389.90 93.83,389.71"/>
<polygon fill="#222" points="98.10,388.55 98.67,389.71 99.95,389.90 99.03,390.80 99.25,392.08 98.10,391.48 96.95,392.08 97.17,390.80 96.25,389.90 97.53,389.71"/>
<polygon fill="#222" points="101.80,388.55 102.37,389.71 103.65,389.90 102.73,390.80 102.95,392.08 101.80,391.48 100.65,392.08 100.87,390.80 99.95,389.90 101.23,389.71"/>
<polyline fill="none" stroke="#222" stroke-width="1.2" points="83.50,388.40 83.50,386.20 122.60,386.20 122.60,388.40"/>
<polygon fill="#222" points="97.50,381.15 98.07,382.31 99.35,382.50 98.43,383.40 98.65,384.68 97.50,384.07 96.35,384.68 96.57,383.40 95.65,382.50 96.93,382.31"/>
<polygon fill="#222" points="101.20,381.15 101.77,382.31 103.05,382.50 102.13,383.40 102.35,384.68 101.20,384.07 100.05,384.68 100.27,383.40 99.35,382.50 100.63,382.31"/>
<polygon fill="#222" points="104.90,381.15 105.47,382.31 106.75,382.50 105.83,383.40 106.05,384.68 104.90,384.07 103.75,384.68 103.97,383.40 103.05,382.50 104.33,382.31"/>
<polygon fill="#222" points="108.60,381.15 109.17,382.31 110.45,382.50 109.53,383.40 109.75,384.68 108.60,384.07 107.45,384.68 107.67,383.40 106.75,382.50 108.03,382.31"/>
<polyline fill="none" stroke="#222" stroke-width="1.2" points="96.90,380.30 96.90,378.10 122.60,378.10 122.60,380.30"/>
<text x="109.75" y="376.10" font-size="9.8" fill="#222" text-anchor="middle" stroke="#222" stroke-width="0.16">ns</text>
<text x="19.3" y="428.2" font-size="9.6" fill="#222" text-anchor="middle" transform="rotate(-90 19.3 428.2)" stroke="#222" stroke-width="0.16">Human IFN-<tspan font-size="7.5" dy="-1">γ</tspan></text>
<text x="29.30" y="427.70" font-size="9.6" fill="#222" text-anchor="middle" transform="rotate(-90 29.30 427.70)" stroke="#222" stroke-width="0.16">(pg/ml)</text>
<line x1="188.50" y1="394.90" x2="188.50" y2="460.00" stroke="#222" stroke-width="1.4"/>
<line x1="184.80" y1="459.50" x2="188.50" y2="459.50" stroke="#222" stroke-width="1.4"/>
<text x="183.80" y="462.88" font-size="9.4" fill="#222" text-anchor="end" stroke="#222" stroke-width="0.16">0</text>
<line x1="184.80" y1="443.48" x2="188.50" y2="443.48" stroke="#222" stroke-width="1.4"/>
<text x="183.80" y="446.86" font-size="9.4" fill="#222" text-anchor="end" stroke="#222" stroke-width="0.16">300</text>
<line x1="184.80" y1="427.45" x2="188.50" y2="427.45" stroke="#222" stroke-width="1.4"/>
<text x="183.80" y="430.83" font-size="9.4" fill="#222" text-anchor="end" stroke="#222" stroke-width="0.16">600</text>
<line x1="184.80" y1="411.43" x2="188.50" y2="411.43" stroke="#222" stroke-width="1.4"/>
<text x="183.80" y="414.81" font-size="9.4" fill="#222" text-anchor="end" stroke="#222" stroke-width="0.16">900</text>
<line x1="184.80" y1="395.40" x2="188.50" y2="395.40" stroke="#222" stroke-width="1.4"/>
<text x="183.80" y="398.78" font-size="9.4" fill="#222" text-anchor="end" stroke="#222" stroke-width="0.16">1200</text>
<line x1="188.00" y1="459.50" x2="263.80" y2="459.50" stroke="#222" stroke-width="1.4"/>
<line x1="197.40" y1="459.50" x2="197.40" y2="463.20" stroke="#222" stroke-width="1.3"/>
<line x1="211.70" y1="459.50" x2="211.70" y2="463.20" stroke="#222" stroke-width="1.3"/>
<line x1="226.20" y1="459.50" x2="226.20" y2="463.20" stroke="#222" stroke-width="1.3"/>
<line x1="240.50" y1="459.50" x2="240.50" y2="463.20" stroke="#222" stroke-width="1.3"/>
<line x1="254.70" y1="459.50" x2="254.70" y2="463.20" stroke="#222" stroke-width="1.3"/>
<circle cx="197.40" cy="459.50" r="1.7920000000000003" fill="#fff" stroke="#222" stroke-width="1.1"/>
<circle cx="195.50" cy="459.29" r="1.7920000000000003" fill="#fff" stroke="#222" stroke-width="1.1"/>
<circle cx="199.30" cy="459.07" r="1.7920000000000003" fill="#fff" stroke="#222" stroke-width="1.1"/>
<circle cx="197.40" cy="458.86" r="1.7920000000000003" fill="#fff" stroke="#222" stroke-width="1.1"/>
<circle cx="195.50" cy="458.65" r="1.7920000000000003" fill="#fff" stroke="#222" stroke-width="1.1"/>
<line x1="192.20" y1="459.07" x2="202.60" y2="459.07" stroke="#222" stroke-width="1.5"/>
<line x1="197.40" y1="459.22" x2="197.40" y2="458.92" stroke="#222" stroke-width="1.3"/>
<line x1="194.80" y1="459.22" x2="200.00" y2="459.22" stroke="#222" stroke-width="1.3"/>
<line x1="194.80" y1="458.92" x2="200.00" y2="458.92" stroke="#222" stroke-width="1.3"/>
<polygon fill="#222" points="209.35,457.62 214.05,457.62 211.70,461.62"/>
<polygon fill="#222" points="207.45,457.40 212.15,457.40 209.80,461.40"/>
<polygon fill="#222" points="211.25,457.19 215.95,457.19 213.60,461.19"/>
<polygon fill="#222" points="209.35,456.98 214.05,456.98 211.70,460.98"/>
<polygon fill="#222" points="207.45,456.76 212.15,456.76 209.80,460.76"/>
<line x1="206.50" y1="459.07" x2="216.90" y2="459.07" stroke="#222" stroke-width="1.5"/>
<line x1="211.70" y1="459.22" x2="211.70" y2="458.92" stroke="#222" stroke-width="1.3"/>
<line x1="209.10" y1="459.22" x2="214.30" y2="459.22" stroke="#222" stroke-width="1.3"/>
<line x1="209.10" y1="458.92" x2="214.30" y2="458.92" stroke="#222" stroke-width="1.3"/>
<circle cx="226.20" cy="409.40" r="2.128" fill="#ff2a2a" stroke="none" stroke-width="0"/>
<circle cx="226.20" cy="415.70" r="2.128" fill="#ff2a2a" stroke="none" stroke-width="0"/>
<circle cx="223.20" cy="417.94" r="2.128" fill="#ff2a2a" stroke="none" stroke-width="0"/>
<circle cx="229.20" cy="420.45" r="2.128" fill="#ff2a2a" stroke="none" stroke-width="0"/>
<circle cx="223.20" cy="422.54" r="2.128" fill="#ff2a2a" stroke="none" stroke-width="0"/>
<line x1="221.00" y1="417.20" x2="231.40" y2="417.20" stroke="#ff2a2a" stroke-width="1.5"/>
<line x1="226.20" y1="419.47" x2="226.20" y2="414.94" stroke="#ff2a2a" stroke-width="1.3"/>
<line x1="223.60" y1="419.47" x2="228.80" y2="419.47" stroke="#ff2a2a" stroke-width="1.3"/>
<line x1="223.60" y1="414.94" x2="228.80" y2="414.94" stroke="#ff2a2a" stroke-width="1.3"/>
<rect x="238.37" y="412.98" width="4.26" height="4.26" fill="#3535ff"/>
<rect x="235.37" y="414.69" width="4.26" height="4.26" fill="#3535ff"/>
<rect x="238.37" y="418.91" width="4.26" height="4.26" fill="#3535ff"/>
<rect x="235.37" y="422.12" width="4.26" height="4.26" fill="#3535ff"/>
<rect x="238.37" y="425.91" width="4.26" height="4.26" fill="#3535ff"/>
<line x1="235.30" y1="421.05" x2="245.70" y2="421.05" stroke="#3535ff" stroke-width="1.5"/>
<line x1="240.50" y1="423.42" x2="240.50" y2="418.68" stroke="#3535ff" stroke-width="1.3"/>
<line x1="237.90" y1="423.42" x2="243.10" y2="423.42" stroke="#3535ff" stroke-width="1.3"/>
<line x1="237.90" y1="418.68" x2="243.10" y2="418.68" stroke="#3535ff" stroke-width="1.3"/>
<polygon fill="#3a9a58" points="252.35,423.62 257.05,423.62 254.70,419.62"/>
<polygon fill="#3a9a58" points="249.35,427.25 254.05,427.25 251.70,423.25"/>
<polygon fill="#3a9a58" points="255.35,429.33 260.05,429.33 257.70,425.33"/>
<polygon fill="#3a9a58" points="249.35,431.41 254.05,431.41 251.70,427.42"/>
<polygon fill="#3a9a58" points="255.35,435.05 260.05,435.05 257.70,431.05"/>
<line x1="249.50" y1="427.45" x2="259.90" y2="427.45" stroke="#3a9a58" stroke-width="1.5"/>
<line x1="254.70" y1="429.37" x2="254.70" y2="425.53" stroke="#3a9a58" stroke-width="1.3"/>
<line x1="252.10" y1="429.37" x2="257.30" y2="429.37" stroke="#3a9a58" stroke-width="1.3"/>
<line x1="252.10" y1="425.53" x2="257.30" y2="425.53" stroke="#3a9a58" stroke-width="1.3"/>
<polyline fill="none" stroke="#222" stroke-width="1.2" points="198.00,451.50 198.00,449.30 211.10,449.30 211.10,451.50"/>
<text x="204.55" y="447.30" font-size="9.8" fill="#222" text-anchor="middle" stroke="#222" stroke-width="0.16">ns</text>
<polyline fill="none" stroke="#222" stroke-width="1.2" points="212.30,399.60 212.30,397.40 225.60,397.40 225.60,399.60"/>
<polygon fill="#222" points="213.40,392.35 213.97,393.51 215.25,393.70 214.33,394.60 214.55,395.88 213.40,395.27 212.25,395.88 212.47,394.60 211.55,393.70 212.83,393.51"/>
<polygon fill="#222" points="217.10,392.35 217.67,393.51 218.95,393.70 218.03,394.60 218.25,395.88 217.10,395.27 215.95,395.88 216.17,394.60 215.25,393.70 216.53,393.51"/>
<polygon fill="#222" points="220.80,392.35 221.37,393.51 222.65,393.70 221.73,394.60 221.95,395.88 220.80,395.27 219.65,395.88 219.87,394.60 218.95,393.70 220.23,393.51"/>
<polygon fill="#222" points="224.50,392.35 225.07,393.51 226.35,393.70 225.43,394.60 225.65,395.88 224.50,395.27 223.35,395.88 223.57,394.60 222.65,393.70 223.93,393.51"/>
<polyline fill="none" stroke="#222" stroke-width="1.2" points="226.80,399.60 226.80,397.40 239.90,397.40 239.90,399.60"/>
<text x="233.35" y="395.40" font-size="9.8" fill="#222" text-anchor="middle" stroke="#222" stroke-width="0.16">ns</text>
<polyline fill="none" stroke="#222" stroke-width="1.2" points="241.10,399.60 241.10,397.40 254.10,397.40 254.10,399.60"/>
<text x="247.60" y="395.40" font-size="9.8" fill="#222" text-anchor="middle" stroke="#222" stroke-width="0.16">ns</text>
<polyline fill="none" stroke="#222" stroke-width="1.2" points="212.30,391.10 212.30,388.90 239.90,388.90 239.90,391.10"/>
<polygon fill="#222" points="220.55,383.85 221.12,385.01 222.40,385.20 221.48,386.10 221.70,387.38 220.55,386.77 219.40,387.38 219.62,386.10 218.70,385.20 219.98,385.01"/>
<polygon fill="#222" points="224.25,383.85 224.82,385.01 226.10,385.20 225.18,386.10 225.40,387.38 224.25,386.77 223.10,387.38 223.32,386.10 222.40,385.20 223.68,385.01"/>
<polygon fill="#222" points="227.95,383.85 228.52,385.01 229.80,385.20 228.88,386.10 229.10,387.38 227.95,386.77 226.80,387.38 227.02,386.10 226.10,385.20 227.38,385.01"/>
<polygon fill="#222" points="231.65,383.85 232.22,385.01 233.50,385.20 232.58,386.10 232.80,387.38 231.65,386.77 230.50,387.38 230.72,386.10 229.80,385.20 231.08,385.01"/>
<polyline fill="none" stroke="#222" stroke-width="1.2" points="212.30,384.20 212.30,382.00 254.10,382.00 254.10,384.20"/>
<polygon fill="#222" points="227.65,376.95 228.22,378.11 229.50,378.30 228.58,379.20 228.80,380.48 227.65,379.88 226.50,380.48 226.72,379.20 225.80,378.30 227.08,378.11"/>
<polygon fill="#222" points="231.35,376.95 231.92,378.11 233.20,378.30 232.28,379.20 232.50,380.48 231.35,379.88 230.20,380.48 230.42,379.20 229.50,378.30 230.78,378.11"/>
<polygon fill="#222" points="235.05,376.95 235.62,378.11 236.90,378.30 235.98,379.20 236.20,380.48 235.05,379.88 233.90,380.48 234.12,379.20 233.20,378.30 234.48,378.11"/>
<polygon fill="#222" points="238.75,376.95 239.32,378.11 240.60,378.30 239.68,379.20 239.90,380.48 238.75,379.88 237.60,380.48 237.82,379.20 236.90,378.30 238.18,378.11"/>
<polyline fill="none" stroke="#222" stroke-width="1.2" points="226.80,374.60 226.80,372.40 254.10,372.40 254.10,374.60"/>
<polygon fill="#222" points="240.45,367.35 241.02,368.51 242.30,368.70 241.38,369.60 241.60,370.88 240.45,370.27 239.30,370.88 239.52,369.60 238.60,368.70 239.88,368.51"/>
<text x="147.8" y="426" font-size="9.6" fill="#222" text-anchor="middle" transform="rotate(-90 147.8 426)" stroke="#222" stroke-width="0.16">Human TNF-<tspan font-size="7.5" dy="-1">α</tspan></text>
<text x="158.30" y="426.00" font-size="9.6" fill="#222" text-anchor="middle" transform="rotate(-90 158.30 426.00)" stroke="#222" stroke-width="0.16">(pg/ml)</text>
<line x1="316.20" y1="394.90" x2="316.20" y2="460.00" stroke="#222" stroke-width="1.4"/>
<line x1="312.50" y1="459.50" x2="316.20" y2="459.50" stroke="#222" stroke-width="1.4"/>
<text x="311.50" y="462.88" font-size="9.4" fill="#222" text-anchor="end" stroke="#222" stroke-width="0.16">0</text>
<line x1="312.50" y1="443.48" x2="316.20" y2="443.48" stroke="#222" stroke-width="1.4"/>
<text x="311.50" y="446.86" font-size="9.4" fill="#222" text-anchor="end" stroke="#222" stroke-width="0.16">200</text>
<line x1="312.50" y1="427.45" x2="316.20" y2="427.45" stroke="#222" stroke-width="1.4"/>
<text x="311.50" y="430.83" font-size="9.4" fill="#222" text-anchor="end" stroke="#222" stroke-width="0.16">400</text>
<line x1="312.50" y1="411.43" x2="316.20" y2="411.43" stroke="#222" stroke-width="1.4"/>
<text x="311.50" y="414.81" font-size="9.4" fill="#222" text-anchor="end" stroke="#222" stroke-width="0.16">600</text>
<line x1="312.50" y1="395.40" x2="316.20" y2="395.40" stroke="#222" stroke-width="1.4"/>
<text x="311.50" y="398.78" font-size="9.4" fill="#222" text-anchor="end" stroke="#222" stroke-width="0.16">800</text>
<line x1="315.70" y1="459.50" x2="391.90" y2="459.50" stroke="#222" stroke-width="1.4"/>
<line x1="325.50" y1="459.50" x2="325.50" y2="463.20" stroke="#222" stroke-width="1.3"/>
<line x1="339.50" y1="459.50" x2="339.50" y2="463.20" stroke="#222" stroke-width="1.3"/>
<line x1="354.00" y1="459.50" x2="354.00" y2="463.20" stroke="#222" stroke-width="1.3"/>
<line x1="368.30" y1="459.50" x2="368.30" y2="463.20" stroke="#222" stroke-width="1.3"/>
<line x1="382.60" y1="459.50" x2="382.60" y2="463.20" stroke="#222" stroke-width="1.3"/>
<circle cx="325.50" cy="459.50" r="1.7920000000000003" fill="#fff" stroke="#222" stroke-width="1.1"/>
<circle cx="323.60" cy="459.18" r="1.7920000000000003" fill="#fff" stroke="#222" stroke-width="1.1"/>
<circle cx="327.40" cy="458.86" r="1.7920000000000003" fill="#fff" stroke="#222" stroke-width="1.1"/>
<circle cx="325.50" cy="458.54" r="1.7920000000000003" fill="#fff" stroke="#222" stroke-width="1.1"/>
<circle cx="323.60" cy="458.22" r="1.7920000000000003" fill="#fff" stroke="#222" stroke-width="1.1"/>
<line x1="320.30" y1="458.86" x2="330.70" y2="458.86" stroke="#222" stroke-width="1.5"/>
<line x1="325.50" y1="459.09" x2="325.50" y2="458.63" stroke="#222" stroke-width="1.3"/>
<line x1="322.90" y1="459.09" x2="328.10" y2="459.09" stroke="#222" stroke-width="1.3"/>
<line x1="322.90" y1="458.63" x2="328.10" y2="458.63" stroke="#222" stroke-width="1.3"/>
<polygon fill="#222" points="337.15,457.62 341.85,457.62 339.50,461.62"/>
<polygon fill="#222" points="335.25,457.30 339.95,457.30 337.60,461.30"/>
<polygon fill="#222" points="339.05,456.98 343.75,456.98 341.40,460.98"/>
<polygon fill="#222" points="337.15,456.66 341.85,456.66 339.50,460.66"/>
<polygon fill="#222" points="335.25,456.34 339.95,456.34 337.60,460.33"/>
<line x1="334.30" y1="458.86" x2="344.70" y2="458.86" stroke="#222" stroke-width="1.5"/>
<line x1="339.50" y1="459.09" x2="339.50" y2="458.63" stroke="#222" stroke-width="1.3"/>
<line x1="336.90" y1="459.09" x2="342.10" y2="459.09" stroke="#222" stroke-width="1.3"/>
<line x1="336.90" y1="458.63" x2="342.10" y2="458.63" stroke="#222" stroke-width="1.3"/>
<circle cx="354.00" cy="414.71" r="2.128" fill="#ff2a2a" stroke="none" stroke-width="0"/>
<circle cx="354.00" cy="422.56" r="2.128" fill="#ff2a2a" stroke="none" stroke-width="0"/>
<circle cx="351.00" cy="425.37" r="2.128" fill="#ff2a2a" stroke="none" stroke-width="0"/>
<circle cx="357.00" cy="426.33" r="2.128" fill="#ff2a2a" stroke="none" stroke-width="0"/>
<circle cx="354.00" cy="436.58" r="2.128" fill="#ff2a2a" stroke="none" stroke-width="0"/>
<line x1="348.80" y1="425.11" x2="359.20" y2="425.11" stroke="#ff2a2a" stroke-width="1.5"/>
<line x1="354.00" y1="428.63" x2="354.00" y2="421.59" stroke="#ff2a2a" stroke-width="1.3"/>
<line x1="351.40" y1="428.63" x2="356.60" y2="428.63" stroke="#ff2a2a" stroke-width="1.3"/>
<line x1="351.40" y1="421.59" x2="356.60" y2="421.59" stroke="#ff2a2a" stroke-width="1.3"/>
<rect x="366.17" y="423.24" width="4.26" height="4.26" fill="#3535ff"/>
<rect x="366.17" y="430.21" width="4.26" height="4.26" fill="#3535ff"/>
<rect x="363.17" y="431.73" width="4.26" height="4.26" fill="#3535ff"/>
<rect x="369.17" y="432.77" width="4.26" height="4.26" fill="#3535ff"/>
<rect x="366.17" y="434.46" width="4.26" height="4.26" fill="#3535ff"/>
<line x1="363.10" y1="432.61" x2="373.50" y2="432.61" stroke="#3535ff" stroke-width="1.5"/>
<line x1="368.30" y1="434.55" x2="368.30" y2="430.67" stroke="#3535ff" stroke-width="1.3"/>
<line x1="365.70" y1="434.55" x2="370.90" y2="434.55" stroke="#3535ff" stroke-width="1.3"/>
<line x1="365.70" y1="430.67" x2="370.90" y2="430.67" stroke="#3535ff" stroke-width="1.3"/>
<polygon fill="#3a9a58" points="380.25,418.67 384.95,418.67 382.60,414.68"/>
<polygon fill="#3a9a58" points="377.25,422.92 381.95,422.92 379.60,418.92"/>
<polygon fill="#3a9a58" points="380.25,427.25 384.95,427.25 382.60,423.25"/>
<polygon fill="#3a9a58" points="377.25,429.97 381.95,429.97 379.60,425.97"/>
<polygon fill="#3a9a58" points="380.25,434.62 384.95,434.62 382.60,430.62"/>
<line x1="377.40" y1="424.81" x2="387.80" y2="424.81" stroke="#3a9a58" stroke-width="1.5"/>
<line x1="382.60" y1="427.57" x2="382.60" y2="422.05" stroke="#3a9a58" stroke-width="1.3"/>
<line x1="380.00" y1="427.57" x2="385.20" y2="427.57" stroke="#3a9a58" stroke-width="1.3"/>
<line x1="380.00" y1="422.05" x2="385.20" y2="422.05" stroke="#3a9a58" stroke-width="1.3"/>
<polyline fill="none" stroke="#222" stroke-width="1.2" points="326.10,451.50 326.10,449.30 338.90,449.30 338.90,451.50"/>
<text x="332.50" y="447.30" font-size="9.8" fill="#222" text-anchor="middle" stroke="#222" stroke-width="0.16">ns</text>
<polyline fill="none" stroke="#222" stroke-width="1.2" points="340.10,405.30 340.10,403.10 353.40,403.10 353.40,405.30"/>
<polygon fill="#222" points="341.20,398.05 341.77,399.21 343.05,399.40 342.13,400.30 342.35,401.58 341.20,400.98 340.05,401.58 340.27,400.30 339.35,399.40 340.63,399.21"/>
<polygon fill="#222" points="344.90,398.05 345.47,399.21 346.75,399.40 345.83,400.30 346.05,401.58 344.90,400.98 343.75,401.58 343.97,400.30 343.05,399.40 344.33,399.21"/>
<polygon fill="#222" points="348.60,398.05 349.17,399.21 350.45,399.40 349.53,400.30 349.75,401.58 348.60,400.98 347.45,401.58 347.67,400.30 346.75,399.40 348.03,399.21"/>
<polygon fill="#222" points="352.30,398.05 352.87,399.21 354.15,399.40 353.23,400.30 353.45,401.58 352.30,400.98 351.15,401.58 351.37,400.30 350.45,399.40 351.73,399.21"/>
<polyline fill="none" stroke="#222" stroke-width="1.2" points="354.60,405.30 354.60,403.10 367.70,403.10 367.70,405.30"/>
<text x="361.15" y="401.10" font-size="9.8" fill="#222" text-anchor="middle" stroke="#222" stroke-width="0.16">ns</text>
<polyline fill="none" stroke="#222" stroke-width="1.2" points="368.90,405.30 368.90,403.10 382.00,403.10 382.00,405.30"/>
<text x="375.45" y="401.10" font-size="9.8" fill="#222" text-anchor="middle" stroke="#222" stroke-width="0.16">ns</text>
<polyline fill="none" stroke="#222" stroke-width="1.2" points="340.10,393.70 340.10,391.50 367.70,391.50 367.70,393.70"/>
<polygon fill="#222" points="348.35,386.45 348.92,387.61 350.20,387.80 349.28,388.70 349.50,389.98 348.35,389.38 347.20,389.98 347.42,388.70 346.50,387.80 347.78,387.61"/>
<polygon fill="#222" points="352.05,386.45 352.62,387.61 353.90,387.80 352.98,388.70 353.20,389.98 352.05,389.38 350.90,389.98 351.12,388.70 350.20,387.80 351.48,387.61"/>
<polygon fill="#222" points="355.75,386.45 356.32,387.61 357.60,387.80 356.68,388.70 356.90,389.98 355.75,389.38 354.60,389.98 354.82,388.70 353.90,387.80 355.18,387.61"/>
<polygon fill="#222" points="359.45,386.45 360.02,387.61 361.30,387.80 360.38,388.70 360.60,389.98 359.45,389.38 358.30,389.98 358.52,388.70 357.60,387.80 358.88,387.61"/>
<polyline fill="none" stroke="#222" stroke-width="1.2" points="340.10,385.20 340.10,383.00 382.00,383.00 382.00,385.20"/>
<polygon fill="#222" points="355.50,377.95 356.07,379.11 357.35,379.30 356.43,380.20 356.65,381.48 355.50,380.88 354.35,381.48 354.57,380.20 353.65,379.30 354.93,379.11"/>
<polygon fill="#222" points="359.20,377.95 359.77,379.11 361.05,379.30 360.13,380.20 360.35,381.48 359.20,380.88 358.05,381.48 358.27,380.20 357.35,379.30 358.63,379.11"/>
<polygon fill="#222" points="362.90,377.95 363.47,379.11 364.75,379.30 363.83,380.20 364.05,381.48 362.90,380.88 361.75,381.48 361.97,380.20 361.05,379.30 362.33,379.11"/>
<polygon fill="#222" points="366.60,377.95 367.17,379.11 368.45,379.30 367.53,380.20 367.75,381.48 366.60,380.88 365.45,381.48 365.67,380.20 364.75,379.30 366.03,379.11"/>
<polyline fill="none" stroke="#222" stroke-width="1.2" points="354.60,375.00 354.60,372.80 382.00,372.80 382.00,375.00"/>
<text x="368.30" y="370.80" font-size="9.8" fill="#222" text-anchor="middle" stroke="#222" stroke-width="0.16">ns</text>
<text x="277.30" y="426.00" font-size="9.8" fill="#222" text-anchor="middle" transform="rotate(-90 277.30 426.00)" stroke="#222" stroke-width="0.16">Human IL-2</text>
<text x="287.90" y="426.00" font-size="9.8" fill="#222" text-anchor="middle" transform="rotate(-90 287.90 426.00)" stroke="#222" stroke-width="0.16">(pg/ml)</text>
<line x1="442.50" y1="395.10" x2="442.50" y2="460.40" stroke="#222" stroke-width="1.4"/>
<line x1="438.80" y1="459.90" x2="442.50" y2="459.90" stroke="#222" stroke-width="1.4"/>
<text x="437.80" y="463.28" font-size="9.4" fill="#222" text-anchor="end" stroke="#222" stroke-width="0.16">0</text>
<line x1="438.80" y1="438.47" x2="442.50" y2="438.47" stroke="#222" stroke-width="1.4"/>
<text x="437.80" y="441.85" font-size="9.4" fill="#222" text-anchor="end" stroke="#222" stroke-width="0.16">100</text>
<line x1="438.80" y1="417.03" x2="442.50" y2="417.03" stroke="#222" stroke-width="1.4"/>
<text x="437.80" y="420.42" font-size="9.4" fill="#222" text-anchor="end" stroke="#222" stroke-width="0.16">200</text>
<line x1="438.80" y1="395.60" x2="442.50" y2="395.60" stroke="#222" stroke-width="1.4"/>
<text x="437.80" y="398.98" font-size="9.4" fill="#222" text-anchor="end" stroke="#222" stroke-width="0.16">300</text>
<line x1="442.00" y1="459.90" x2="518.80" y2="459.90" stroke="#222" stroke-width="1.4"/>
<line x1="452.00" y1="459.90" x2="452.00" y2="463.60" stroke="#222" stroke-width="1.3"/>
<line x1="466.30" y1="459.90" x2="466.30" y2="463.60" stroke="#222" stroke-width="1.3"/>
<line x1="481.00" y1="459.90" x2="481.00" y2="463.60" stroke="#222" stroke-width="1.3"/>
<line x1="495.50" y1="459.90" x2="495.50" y2="463.60" stroke="#222" stroke-width="1.3"/>
<line x1="509.70" y1="459.90" x2="509.70" y2="463.60" stroke="#222" stroke-width="1.3"/>
<circle cx="452.00" cy="459.90" r="1.7920000000000003" fill="#fff" stroke="#222" stroke-width="1.1"/>
<circle cx="450.10" cy="459.69" r="1.7920000000000003" fill="#fff" stroke="#222" stroke-width="1.1"/>
<circle cx="453.90" cy="459.47" r="1.7920000000000003" fill="#fff" stroke="#222" stroke-width="1.1"/>
<circle cx="452.00" cy="459.26" r="1.7920000000000003" fill="#fff" stroke="#222" stroke-width="1.1"/>
<circle cx="450.10" cy="459.04" r="1.7920000000000003" fill="#fff" stroke="#222" stroke-width="1.1"/>
<line x1="446.80" y1="459.47" x2="457.20" y2="459.47" stroke="#222" stroke-width="1.5"/>
<line x1="452.00" y1="459.62" x2="452.00" y2="459.32" stroke="#222" stroke-width="1.3"/>
<line x1="449.40" y1="459.62" x2="454.60" y2="459.62" stroke="#222" stroke-width="1.3"/>
<line x1="449.40" y1="459.32" x2="454.60" y2="459.32" stroke="#222" stroke-width="1.3"/>
<polygon fill="#222" points="463.95,458.02 468.65,458.02 466.30,462.02"/>
<polygon fill="#222" points="462.05,457.80 466.75,457.80 464.40,461.80"/>
<polygon fill="#222" points="465.85,457.59 470.55,457.59 468.20,461.59"/>
<polygon fill="#222" points="463.95,457.38 468.65,457.38 466.30,461.37"/>
<polygon fill="#222" points="462.05,457.16 466.75,457.16 464.40,461.16"/>
<line x1="461.10" y1="459.47" x2="471.50" y2="459.47" stroke="#222" stroke-width="1.5"/>
<line x1="466.30" y1="459.62" x2="466.30" y2="459.32" stroke="#222" stroke-width="1.3"/>
<line x1="463.70" y1="459.62" x2="468.90" y2="459.62" stroke="#222" stroke-width="1.3"/>
<line x1="463.70" y1="459.32" x2="468.90" y2="459.32" stroke="#222" stroke-width="1.3"/>
<circle cx="481.00" cy="451.33" r="2.128" fill="#ff2a2a" stroke="none" stroke-width="0"/>
<circle cx="478.00" cy="452.40" r="2.128" fill="#ff2a2a" stroke="none" stroke-width="0"/>
<circle cx="484.00" cy="453.90" r="2.128" fill="#ff2a2a" stroke="none" stroke-width="0"/>
<circle cx="481.00" cy="455.61" r="2.128" fill="#ff2a2a" stroke="none" stroke-width="0"/>
<circle cx="478.00" cy="457.11" r="2.128" fill="#ff2a2a" stroke="none" stroke-width="0"/>
<line x1="475.80" y1="454.07" x2="486.20" y2="454.07" stroke="#ff2a2a" stroke-width="1.5"/>
<line x1="481.00" y1="455.12" x2="481.00" y2="453.02" stroke="#ff2a2a" stroke-width="1.3"/>
<line x1="478.40" y1="455.12" x2="483.60" y2="455.12" stroke="#ff2a2a" stroke-width="1.3"/>
<line x1="478.40" y1="453.02" x2="483.60" y2="453.02" stroke="#ff2a2a" stroke-width="1.3"/>
<rect x="493.37" y="435.91" width="4.26" height="4.26" fill="#3535ff"/>
<rect x="490.37" y="439.55" width="4.26" height="4.26" fill="#3535ff"/>
<rect x="496.37" y="441.27" width="4.26" height="4.26" fill="#3535ff"/>
<rect x="493.37" y="442.98" width="4.26" height="4.26" fill="#3535ff"/>
<rect x="490.37" y="447.27" width="4.26" height="4.26" fill="#3535ff"/>
<line x1="490.30" y1="443.52" x2="500.70" y2="443.52" stroke="#3535ff" stroke-width="1.5"/>
<line x1="495.50" y1="445.40" x2="495.50" y2="441.65" stroke="#3535ff" stroke-width="1.3"/>
<line x1="492.90" y1="445.40" x2="498.10" y2="445.40" stroke="#3535ff" stroke-width="1.3"/>
<line x1="492.90" y1="441.65" x2="498.10" y2="441.65" stroke="#3535ff" stroke-width="1.3"/>
<polygon fill="#3a9a58" points="507.35,416.77 512.05,416.77 509.70,412.77"/>
<polygon fill="#3a9a58" points="507.35,426.85 512.05,426.85 509.70,422.85"/>
<polygon fill="#3a9a58" points="504.35,428.35 509.05,428.35 506.70,424.35"/>
<polygon fill="#3a9a58" points="507.35,432.63 512.05,432.63 509.70,428.63"/>
<polygon fill="#3a9a58" points="507.35,438.85 512.05,438.85 509.70,434.85"/>
<line x1="504.50" y1="426.81" x2="514.90" y2="426.81" stroke="#3a9a58" stroke-width="1.5"/>
<line x1="509.70" y1="430.44" x2="509.70" y2="423.17" stroke="#3a9a58" stroke-width="1.3"/>
<line x1="507.10" y1="430.44" x2="512.30" y2="430.44" stroke="#3a9a58" stroke-width="1.3"/>
<line x1="507.10" y1="423.17" x2="512.30" y2="423.17" stroke="#3a9a58" stroke-width="1.3"/>
<polyline fill="none" stroke="#222" stroke-width="1.2" points="452.60,451.90 452.60,449.70 465.70,449.70 465.70,451.90"/>
<text x="459.15" y="447.70" font-size="9.8" fill="#222" text-anchor="middle" stroke="#222" stroke-width="0.16">ns</text>
<polyline fill="none" stroke="#222" stroke-width="1.2" points="466.90,406.00 466.90,403.80 480.40,403.80 480.40,406.00"/>
<text x="473.65" y="401.80" font-size="9.8" fill="#222" text-anchor="middle" stroke="#222" stroke-width="0.16">ns</text>
<polyline fill="none" stroke="#222" stroke-width="1.2" points="481.60,406.00 481.60,403.80 494.90,403.80 494.90,406.00"/>
<polygon fill="#222" points="486.40,398.75 486.97,399.91 488.25,400.10 487.33,401.00 487.55,402.28 486.40,401.68 485.25,402.28 485.47,401.00 484.55,400.10 485.83,399.91"/>
<polygon fill="#222" points="490.10,398.75 490.67,399.91 491.95,400.10 491.03,401.00 491.25,402.28 490.10,401.68 488.95,402.28 489.17,401.00 488.25,400.10 489.53,399.91"/>
<polyline fill="none" stroke="#222" stroke-width="1.2" points="496.10,406.00 496.10,403.80 509.10,403.80 509.10,406.00"/>
<polygon fill="#222" points="497.05,398.75 497.62,399.91 498.90,400.10 497.98,401.00 498.20,402.28 497.05,401.68 495.90,402.28 496.12,401.00 495.20,400.10 496.48,399.91"/>
<polygon fill="#222" points="500.75,398.75 501.32,399.91 502.60,400.10 501.68,401.00 501.90,402.28 500.75,401.68 499.60,402.28 499.82,401.00 498.90,400.10 500.18,399.91"/>
<polygon fill="#222" points="504.45,398.75 505.02,399.91 506.30,400.10 505.38,401.00 505.60,402.28 504.45,401.68 503.30,402.28 503.52,401.00 502.60,400.10 503.88,399.91"/>
<polygon fill="#222" points="508.15,398.75 508.72,399.91 510.00,400.10 509.08,401.00 509.30,402.28 508.15,401.68 507.00,402.28 507.22,401.00 506.30,400.10 507.58,399.91"/>
<polyline fill="none" stroke="#222" stroke-width="1.2" points="466.90,394.10 466.90,391.90 494.90,391.90 494.90,394.10"/>
<polygon fill="#222" points="475.35,386.85 475.92,388.01 477.20,388.20 476.28,389.10 476.50,390.38 475.35,389.77 474.20,390.38 474.42,389.10 473.50,388.20 474.78,388.01"/>
<polygon fill="#222" points="479.05,386.85 479.62,388.01 480.90,388.20 479.98,389.10 480.20,390.38 479.05,389.77 477.90,390.38 478.12,389.10 477.20,388.20 478.48,388.01"/>
<polygon fill="#222" points="482.75,386.85 483.32,388.01 484.60,388.20 483.68,389.10 483.90,390.38 482.75,389.77 481.60,390.38 481.82,389.10 480.90,388.20 482.18,388.01"/>
<polygon fill="#222" points="486.45,386.85 487.02,388.01 488.30,388.20 487.38,389.10 487.60,390.38 486.45,389.77 485.30,390.38 485.52,389.10 484.60,388.20 485.88,388.01"/>
<polyline fill="none" stroke="#222" stroke-width="1.2" points="466.90,385.20 466.90,383.00 509.10,383.00 509.10,385.20"/>
<polygon fill="#222" points="482.45,377.95 483.02,379.11 484.30,379.30 483.38,380.20 483.60,381.48 482.45,380.88 481.30,381.48 481.52,380.20 480.60,379.30 481.88,379.11"/>
<polygon fill="#222" points="486.15,377.95 486.72,379.11 488.00,379.30 487.08,380.20 487.30,381.48 486.15,380.88 485.00,381.48 485.22,380.20 484.30,379.30 485.58,379.11"/>
<polygon fill="#222" points="489.85,377.95 490.42,379.11 491.70,379.30 490.78,380.20 491.00,381.48 489.85,380.88 488.70,381.48 488.92,380.20 488.00,379.30 489.28,379.11"/>
<polygon fill="#222" points="493.55,377.95 494.12,379.11 495.40,379.30 494.48,380.20 494.70,381.48 493.55,380.88 492.40,381.48 492.62,380.20 491.70,379.30 492.98,379.11"/>
<polyline fill="none" stroke="#222" stroke-width="1.2" points="481.60,375.00 481.60,372.80 509.10,372.80 509.10,375.00"/>
<polygon fill="#222" points="489.80,367.75 490.37,368.91 491.65,369.10 490.73,370.00 490.95,371.28 489.80,370.68 488.65,371.28 488.87,370.00 487.95,369.10 489.23,368.91"/>
<polygon fill="#222" points="493.50,367.75 494.07,368.91 495.35,369.10 494.43,370.00 494.65,371.28 493.50,370.68 492.35,371.28 492.57,370.00 491.65,369.10 492.93,368.91"/>
<polygon fill="#222" points="497.20,367.75 497.77,368.91 499.05,369.10 498.13,370.00 498.35,371.28 497.20,370.68 496.05,371.28 496.27,370.00 495.35,369.10 496.63,368.91"/>
<polygon fill="#222" points="500.90,367.75 501.47,368.91 502.75,369.10 501.83,370.00 502.05,371.28 500.90,370.68 499.75,371.28 499.97,370.00 499.05,369.10 500.33,368.91"/>
<text x="404.20" y="426.00" font-size="9.8" fill="#222" text-anchor="middle" transform="rotate(-90 404.20 426.00)" stroke="#222" stroke-width="0.16">Human IL-6</text>
<text x="415.30" y="426.00" font-size="9.8" fill="#222" text-anchor="middle" transform="rotate(-90 415.30 426.00)" stroke="#222" stroke-width="0.16">(pg/ml)</text>
<text x="531.80" y="377.10" font-size="15.2" fill="#111" font-weight="bold">I</text>
<line x1="597.50" y1="388.00" x2="597.50" y2="459.90" stroke="#222" stroke-width="1.4"/>
<line x1="593.80" y1="459.40" x2="597.50" y2="459.40" stroke="#222" stroke-width="1.4"/>
<text x="592.80" y="462.78" font-size="9.4" fill="#222" text-anchor="end" stroke="#222" stroke-width="0.16">0</text>
<line x1="593.80" y1="441.67" x2="597.50" y2="441.67" stroke="#222" stroke-width="1.4"/>
<text x="592.80" y="445.06" font-size="9.4" fill="#222" text-anchor="end" stroke="#222" stroke-width="0.16">2</text>
<line x1="593.80" y1="423.95" x2="597.50" y2="423.95" stroke="#222" stroke-width="1.4"/>
<text x="592.80" y="427.33" font-size="9.4" fill="#222" text-anchor="end" stroke="#222" stroke-width="0.16">4</text>
<line x1="593.80" y1="406.22" x2="597.50" y2="406.22" stroke="#222" stroke-width="1.4"/>
<text x="592.80" y="409.61" font-size="9.4" fill="#222" text-anchor="end" stroke="#222" stroke-width="0.16">6</text>
<line x1="593.80" y1="388.50" x2="597.50" y2="388.50" stroke="#222" stroke-width="1.4"/>
<text x="592.80" y="391.88" font-size="9.4" fill="#222" text-anchor="end" stroke="#222" stroke-width="0.16">8</text>
<line x1="597.00" y1="459.40" x2="673.80" y2="459.40" stroke="#222" stroke-width="1.4"/>
<line x1="606.50" y1="459.40" x2="606.50" y2="463.10" stroke="#222" stroke-width="1.3"/>
<line x1="621.30" y1="459.40" x2="621.30" y2="463.10" stroke="#222" stroke-width="1.3"/>
<line x1="635.60" y1="459.40" x2="635.60" y2="463.10" stroke="#222" stroke-width="1.3"/>
<line x1="650.20" y1="459.40" x2="650.20" y2="463.10" stroke="#222" stroke-width="1.3"/>
<line x1="664.50" y1="459.40" x2="664.50" y2="463.10" stroke="#222" stroke-width="1.3"/>
<circle cx="606.50" cy="437.86" r="1.7920000000000003" fill="#fff" stroke="#222" stroke-width="1.1"/>
<circle cx="604.60" cy="440.08" r="1.7920000000000003" fill="#fff" stroke="#222" stroke-width="1.1"/>
<circle cx="608.40" cy="443.36" r="1.7920000000000003" fill="#fff" stroke="#222" stroke-width="1.1"/>
<circle cx="604.60" cy="446.73" r="1.7920000000000003" fill="#fff" stroke="#222" stroke-width="1.1"/>
<circle cx="606.50" cy="450.71" r="1.7920000000000003" fill="#fff" stroke="#222" stroke-width="1.1"/>
<line x1="601.30" y1="443.75" x2="611.70" y2="443.75" stroke="#222" stroke-width="1.5"/>
<line x1="606.50" y1="446.05" x2="606.50" y2="441.45" stroke="#222" stroke-width="1.3"/>
<line x1="603.90" y1="446.05" x2="609.10" y2="446.05" stroke="#222" stroke-width="1.3"/>
<line x1="603.90" y1="441.45" x2="609.10" y2="441.45" stroke="#222" stroke-width="1.3"/>
<polygon fill="#222" points="618.95,428.89 623.65,428.89 621.30,432.89"/>
<polygon fill="#222" points="618.95,433.77 623.65,433.77 621.30,437.77"/>
<polygon fill="#222" points="617.05,435.45 621.75,435.45 619.40,439.45"/>
<polygon fill="#222" points="620.85,437.05 625.55,437.05 623.20,441.04"/>
<polygon fill="#222" points="617.05,439.26 621.75,439.26 619.40,443.26"/>
<line x1="616.10" y1="436.77" x2="626.50" y2="436.77" stroke="#222" stroke-width="1.5"/>
<line x1="621.30" y1="438.52" x2="621.30" y2="435.01" stroke="#222" stroke-width="1.3"/>
<line x1="618.70" y1="438.52" x2="623.90" y2="438.52" stroke="#222" stroke-width="1.3"/>
<line x1="618.70" y1="435.01" x2="623.90" y2="435.01" stroke="#222" stroke-width="1.3"/>
<circle cx="635.60" cy="443.54" r="2.128" fill="#ff2a2a" stroke="none" stroke-width="0"/>
<circle cx="632.60" cy="446.90" r="2.128" fill="#ff2a2a" stroke="none" stroke-width="0"/>
<circle cx="638.60" cy="450.45" r="2.128" fill="#ff2a2a" stroke="none" stroke-width="0"/>
<circle cx="632.60" cy="453.91" r="2.128" fill="#ff2a2a" stroke="none" stroke-width="0"/>
<circle cx="638.60" cy="456.92" r="2.128" fill="#ff2a2a" stroke="none" stroke-width="0"/>
<line x1="630.40" y1="450.34" x2="640.80" y2="450.34" stroke="#ff2a2a" stroke-width="1.5"/>
<line x1="635.60" y1="452.73" x2="635.60" y2="447.95" stroke="#ff2a2a" stroke-width="1.3"/>
<line x1="633.00" y1="452.73" x2="638.20" y2="452.73" stroke="#ff2a2a" stroke-width="1.3"/>
<line x1="633.00" y1="447.95" x2="638.20" y2="447.95" stroke="#ff2a2a" stroke-width="1.3"/>
<rect x="648.07" y="430.15" width="4.26" height="4.26" fill="#3535ff"/>
<rect x="648.07" y="435.74" width="4.26" height="4.26" fill="#3535ff"/>
<rect x="645.07" y="437.51" width="4.26" height="4.26" fill="#3535ff"/>
<rect x="651.07" y="438.66" width="4.26" height="4.26" fill="#3535ff"/>
<rect x="645.07" y="442.29" width="4.26" height="4.26" fill="#3535ff"/>
<line x1="645.00" y1="439.00" x2="655.40" y2="439.00" stroke="#3535ff" stroke-width="1.5"/>
<line x1="650.20" y1="440.99" x2="650.20" y2="437.01" stroke="#3535ff" stroke-width="1.3"/>
<line x1="647.60" y1="440.99" x2="652.80" y2="440.99" stroke="#3535ff" stroke-width="1.3"/>
<line x1="647.60" y1="437.01" x2="652.80" y2="437.01" stroke="#3535ff" stroke-width="1.3"/>
<polygon fill="#3a9a58" points="662.15,399.86 666.85,399.86 664.50,395.87"/>
<polygon fill="#3a9a58" points="662.15,409.88 666.85,409.88 664.50,405.88"/>
<polygon fill="#3a9a58" points="662.15,417.15 666.85,417.15 664.50,413.15"/>
<polygon fill="#3a9a58" points="659.15,421.22 663.85,421.22 661.50,417.22"/>
<polygon fill="#3a9a58" points="662.15,431.95 666.85,431.95 664.50,427.95"/>
<line x1="659.30" y1="414.13" x2="669.70" y2="414.13" stroke="#3a9a58" stroke-width="1.5"/>
<line x1="664.50" y1="419.52" x2="664.50" y2="408.74" stroke="#3a9a58" stroke-width="1.3"/>
<line x1="661.90" y1="419.52" x2="667.10" y2="419.52" stroke="#3a9a58" stroke-width="1.3"/>
<line x1="661.90" y1="408.74" x2="667.10" y2="408.74" stroke="#3a9a58" stroke-width="1.3"/>
<polyline fill="none" stroke="#222" stroke-width="1.2" points="607.10,424.90 607.10,422.70 620.70,422.70 620.70,424.90"/>
<text x="613.90" y="420.70" font-size="9.8" fill="#222" text-anchor="middle" stroke="#222" stroke-width="0.16">ns</text>
<polyline fill="none" stroke="#222" stroke-width="1.2" points="621.90,396.00 621.90,393.80 635.00,393.80 635.00,396.00"/>
<text x="628.45" y="391.80" font-size="9.8" fill="#222" text-anchor="middle" stroke="#222" stroke-width="0.16">ns</text>
<polyline fill="none" stroke="#222" stroke-width="1.2" points="636.20,396.00 636.20,393.80 649.60,393.80 649.60,396.00"/>
<text x="642.90" y="391.80" font-size="9.8" fill="#222" text-anchor="middle" stroke="#222" stroke-width="0.16">ns</text>
<polyline fill="none" stroke="#222" stroke-width="1.2" points="650.80,396.00 650.80,393.80 663.90,393.80 663.90,396.00"/>
<polygon fill="#222" points="653.65,388.75 654.22,389.91 655.50,390.10 654.58,391.00 654.80,392.28 653.65,391.68 652.50,392.28 652.72,391.00 651.80,390.10 653.08,389.91"/>
<polygon fill="#222" points="657.35,388.75 657.92,389.91 659.20,390.10 658.28,391.00 658.50,392.28 657.35,391.68 656.20,392.28 656.42,391.00 655.50,390.10 656.78,389.91"/>
<polygon fill="#222" points="661.05,388.75 661.62,389.91 662.90,390.10 661.98,391.00 662.20,392.28 661.05,391.68 659.90,392.28 660.12,391.00 659.20,390.10 660.48,389.91"/>
<polyline fill="none" stroke="#222" stroke-width="1.2" points="621.90,386.60 621.90,384.40 649.60,384.40 649.60,386.60"/>
<text x="635.75" y="382.40" font-size="9.8" fill="#222" text-anchor="middle" stroke="#222" stroke-width="0.16">ns</text>
<polyline fill="none" stroke="#222" stroke-width="1.2" points="621.90,378.20 621.90,376.00 663.90,376.00 663.90,378.20"/>
<polygon fill="#222" points="639.20,370.95 639.77,372.11 641.05,372.30 640.13,373.20 640.35,374.48 639.20,373.88 638.05,374.48 638.27,373.20 637.35,372.30 638.63,372.11"/>
<polygon fill="#222" points="642.90,370.95 643.47,372.11 644.75,372.30 643.83,373.20 644.05,374.48 642.90,373.88 641.75,374.48 641.97,373.20 641.05,372.30 642.33,372.11"/>
<polygon fill="#222" points="646.60,370.95 647.17,372.11 648.45,372.30 647.53,373.20 647.75,374.48 646.60,373.88 645.45,374.48 645.67,373.20 644.75,372.30 646.03,372.11"/>
<polyline fill="none" stroke="#222" stroke-width="1.2" points="636.20,368.90 636.20,366.70 663.90,366.70 663.90,368.90"/>
<polygon fill="#222" points="644.50,361.65 645.07,362.81 646.35,363.00 645.43,363.90 645.65,365.18 644.50,364.57 643.35,365.18 643.57,363.90 642.65,363.00 643.93,362.81"/>
<polygon fill="#222" points="648.20,361.65 648.77,362.81 650.05,363.00 649.13,363.90 649.35,365.18 648.20,364.57 647.05,365.18 647.27,363.90 646.35,363.00 647.63,362.81"/>
<polygon fill="#222" points="651.90,361.65 652.47,362.81 653.75,363.00 652.83,363.90 653.05,365.18 651.90,364.57 650.75,365.18 650.97,363.90 650.05,363.00 651.33,362.81"/>
<polygon fill="#222" points="655.60,361.65 656.17,362.81 657.45,363.00 656.53,363.90 656.75,365.18 655.60,364.57 654.45,365.18 654.67,363.90 653.75,363.00 655.03,362.81"/>
<text x="555.5" y="420.3" font-size="10.2" fill="#222" text-anchor="middle" transform="rotate(-90 555.5 420.3)" stroke="#222" stroke-width="0.16">Mouse CD11b<tspan font-size="6.9" dy="-3.6">+</tspan><tspan dy="3.6">GR1</tspan><tspan font-size="6.9" dy="-3.6">-</tspan></text>
<text x="567.60" y="417.40" font-size="10.2" fill="#222" text-anchor="middle" transform="rotate(-90 567.60 417.40)" stroke="#222" stroke-width="0.16">macrophages in</text>
<text x="579.5" y="423" font-size="10.2" fill="#222" text-anchor="middle" transform="rotate(-90 579.5 423)" stroke="#222" stroke-width="0.16">peritoneal fluid (x 10<tspan font-size="6.9" dy="-3.6">5</tspan><tspan dy="3.6">)</tspan></text>
</svg></body></html>
